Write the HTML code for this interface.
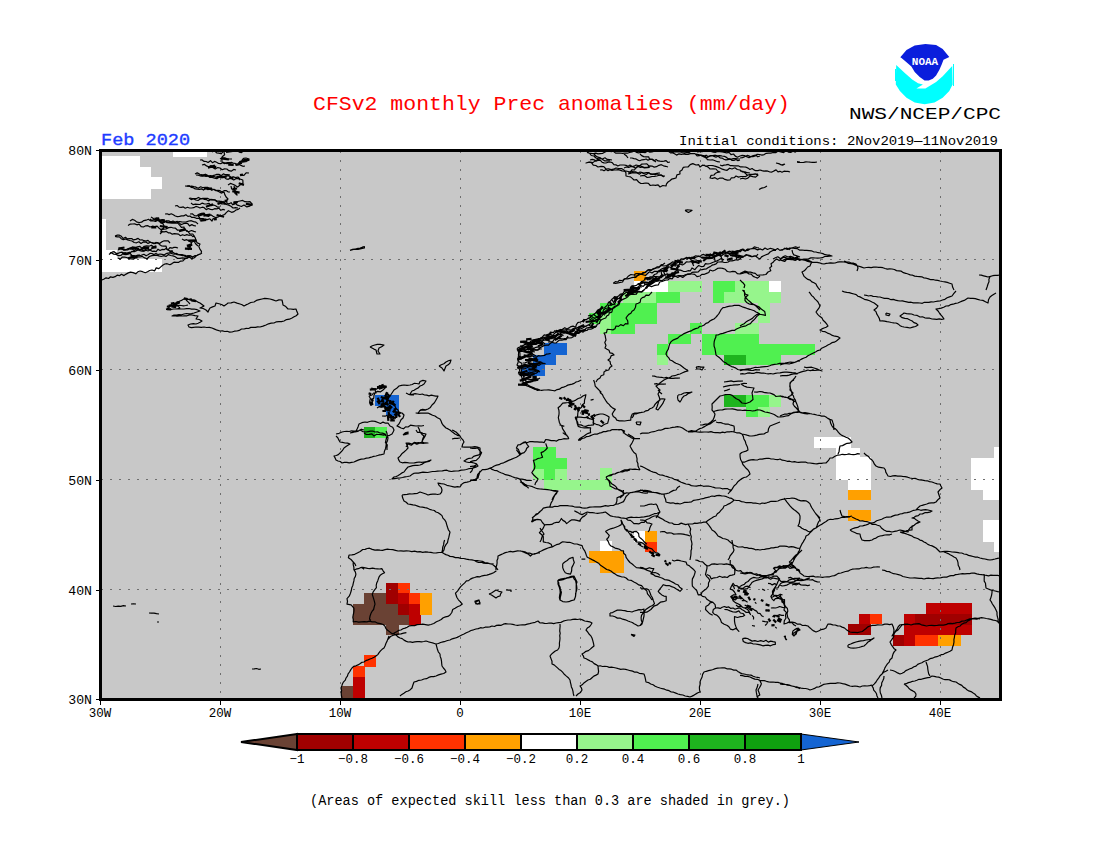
<!DOCTYPE html>
<html><head><meta charset="utf-8">
<style>
html,body{margin:0;padding:0;background:#fff;width:1100px;height:850px;overflow:hidden}
svg{position:absolute;left:0;top:0}
text{font-family:"Liberation Mono",monospace}
#coast path{vector-effect:non-scaling-stroke}
</style></head><body>
<svg width="1100" height="850" viewBox="0 0 1100 850">
<defs><clipPath id="mc"><rect x="101" y="151" width="899" height="548"/></clipPath></defs>
<!-- map background -->
<rect x="100" y="150" width="900" height="549" fill="#c8c8c8"/>
<g id="patches" clip-path="url(#mc)" shape-rendering="crispEdges">
<rect x="102" y="156" width="38" height="43" fill="#ffffff"/><rect x="140" y="167" width="11" height="32" fill="#ffffff"/><rect x="151" y="177" width="11" height="12" fill="#ffffff"/><rect x="173" y="150" width="34" height="7" fill="#ffffff"/><rect x="102" y="219" width="4" height="31" fill="#ffffff"/><rect x="102" y="250" width="15" height="9" fill="#ffffff"/><rect x="102" y="259" width="60" height="13" fill="#ffffff"/><rect x="634" y="271" width="12" height="10" fill="#ffa000"/><rect x="634" y="281" width="34" height="11" fill="#ffffff"/><rect x="668" y="281" width="34" height="11" fill="#96f58c"/><rect x="713" y="281" width="22" height="11" fill="#50f050"/><rect x="713" y="292" width="11" height="11" fill="#50f050"/><rect x="735" y="281" width="34" height="11" fill="#96f58c"/><rect x="724" y="292" width="57" height="11" fill="#96f58c"/><rect x="758" y="303" width="12" height="20" fill="#96f58c"/><rect x="769" y="281" width="12" height="11" fill="#ffffff"/><rect x="623" y="292" width="33" height="11" fill="#96f58c"/><rect x="656" y="292" width="24" height="11" fill="#50f050"/><rect x="600" y="303" width="57" height="21" fill="#50f050"/><rect x="589" y="313" width="11" height="11" fill="#50f050"/><rect x="611" y="324" width="24" height="10" fill="#50f050"/><rect x="600" y="313" width="11" height="21" fill="#96f58c"/><rect x="690" y="323" width="12" height="11" fill="#50f050"/><rect x="735" y="323" width="24" height="11" fill="#96f58c"/><rect x="668" y="334" width="23" height="10" fill="#50f050"/><rect x="702" y="334" width="57" height="10" fill="#50f050"/><rect x="657" y="344" width="11" height="11" fill="#50f050"/><rect x="702" y="344" width="113" height="11" fill="#50f050"/><rect x="657" y="355" width="11" height="10" fill="#96f58c"/><rect x="724" y="355" width="22" height="10" fill="#1eb41e"/><rect x="746" y="355" width="35" height="10" fill="#50f050"/><rect x="724" y="395" width="22" height="12" fill="#1eb41e"/><rect x="746" y="395" width="23" height="12" fill="#50f050"/><rect x="746" y="407" width="12" height="10" fill="#50f050"/><rect x="769" y="395" width="12" height="12" fill="#96f58c"/><rect x="758" y="407" width="12" height="10" fill="#96f58c"/><rect x="544" y="343" width="23" height="12" fill="#1464d2"/><rect x="533" y="355" width="23" height="10" fill="#1464d2"/><rect x="521" y="365" width="24" height="11" fill="#1464d2"/><rect x="375" y="395" width="24" height="11" fill="#1464d2"/><rect x="386" y="406" width="13" height="10" fill="#1464d2"/><rect x="364" y="427" width="11" height="11" fill="#1eb41e"/><rect x="375" y="427" width="12" height="11" fill="#50f050"/><rect x="533" y="447" width="23" height="11" fill="#50f050"/><rect x="533" y="458" width="34" height="11" fill="#50f050"/><rect x="533" y="469" width="11" height="11" fill="#96f58c"/><rect x="544" y="469" width="11" height="11" fill="#50f050"/><rect x="555" y="469" width="12" height="11" fill="#96f58c"/><rect x="600" y="468" width="12" height="12" fill="#96f58c"/><rect x="544" y="480" width="68" height="10" fill="#96f58c"/><rect x="814" y="437" width="37" height="11" fill="#ffffff"/><rect x="836" y="448" width="24" height="9" fill="#ffffff"/><rect x="836" y="457" width="35" height="23" fill="#ffffff"/><rect x="848" y="480" width="23" height="10" fill="#ffffff"/><rect x="848" y="490" width="23" height="10" fill="#ffa000"/><rect x="848" y="510" width="23" height="11" fill="#ffa000"/><rect x="994" y="447" width="6" height="11" fill="#ffffff"/><rect x="971" y="458" width="29" height="32" fill="#ffffff"/><rect x="983" y="490" width="17" height="10" fill="#ffffff"/><rect x="983" y="520" width="17" height="22" fill="#ffffff"/><rect x="994" y="542" width="6" height="10" fill="#ffffff"/><rect x="600" y="541" width="12" height="11" fill="#ffffff"/><rect x="589" y="551" width="35" height="12" fill="#ffa000"/><rect x="600" y="563" width="24" height="10" fill="#ffa000"/><rect x="634" y="531" width="11" height="11" fill="#ffffff"/><rect x="645" y="531" width="12" height="11" fill="#ffa000"/><rect x="645" y="542" width="12" height="10" fill="#ff3200"/><rect x="386" y="583" width="12" height="21" fill="#a00000"/><rect x="398" y="583" width="12" height="10" fill="#ff3200"/><rect x="364" y="593" width="22" height="11" fill="#6a4234"/><rect x="398" y="593" width="11" height="11" fill="#be0000"/><rect x="409" y="593" width="11" height="11" fill="#ff3200"/><rect x="420" y="593" width="12" height="22" fill="#ffa000"/><rect x="353" y="604" width="45" height="11" fill="#6a4234"/><rect x="398" y="604" width="11" height="11" fill="#a00000"/><rect x="409" y="604" width="11" height="11" fill="#be0000"/><rect x="353" y="615" width="56" height="10" fill="#6a4234"/><rect x="409" y="615" width="12" height="10" fill="#be0000"/><rect x="386" y="625" width="13" height="10" fill="#6a4234"/><rect x="364" y="655" width="12" height="12" fill="#ff3200"/><rect x="353" y="666" width="12" height="11" fill="#ff3200"/><rect x="353" y="677" width="12" height="22" fill="#be0000"/><rect x="341" y="686" width="12" height="13" fill="#6a4234"/><rect x="859" y="614" width="11" height="10" fill="#be0000"/><rect x="870" y="614" width="12" height="10" fill="#ff3200"/><rect x="848" y="624" width="23" height="11" fill="#a00000"/><rect x="926" y="603" width="46" height="11" fill="#be0000"/><rect x="904" y="614" width="11" height="32" fill="#be0000"/><rect x="915" y="614" width="57" height="11" fill="#a00000"/><rect x="904" y="625" width="68" height="10" fill="#be0000"/><rect x="893" y="635" width="11" height="11" fill="#a00000"/><rect x="915" y="635" width="23" height="11" fill="#ff3200"/><rect x="938" y="635" width="23" height="11" fill="#ffa000"/>
</g>
<!-- grid -->
<g stroke="#6e6e6e" stroke-width="1" stroke-dasharray="2 7" fill="none">
<path d="M101 259.5H1000M101 369.5H1000M101 479.5H1000M101 589.5H1000"/>
<path d="M220.5 151V699M340.5 151V699M460.5 151V699M580.5 151V699M700.5 151V699M820.5 151V699M940.5 151V699"/>
</g>
<g id="coast" clip-path="url(#mc)" stroke="#000" stroke-width="1.2" fill="none" stroke-linejoin="round" vector-effect="non-scaling-stroke">
<path d="M102.0 280.0 104.1 279.0 106.1 277.8 108.6 278.5 110.5 276.8 112.9 277.3 115.1 276.7 117.1 275.2 119.5 275.7 121.4 274.3 124.0 275.6 126.1 274.1 128.3 272.9 130.6 272.1 133.1 272.6 135.8 273.8 137.8 271.8 140.1 271.0 142.6 271.7 145.3 272.7 147.5 271.8 149.7 270.5 152.0 270.0 154.7 270.8 156.2 267.9 158.9 268.6 160.8 266.9 162.7 265.2 164.8 264.0 167.1 263.7 169.9 264.7 172.0 263.6 174.0 262.2 176.4 262.4 178.7 262.3 180.7 261.1 183.0 260.8 184.9 258.9 186.9 257.7 189.1 257.3 191.7 258.3 194.0 258.0 195.8 256.5 197.6 254.9 200.0 254.2 202.0 253.0M115.0 236.4 117.2 236.8 119.4 236.9 121.2 238.7 123.3 239.6 125.7 238.9 127.7 239.9 129.8 240.5 132.0 241.0 134.2 242.5 136.5 242.8 138.9 241.7 141.0 243.5 143.6 241.8 145.9 242.1 148.0 243.4 150.5 242.2 152.7 242.9 155.0 243.6 157.6 242.5 159.4 244.4 161.4 245.8 163.7 246.1 166.0 246.0 166.9 249.4 170.0 251.0 172.5 252.1 174.8 253.6 177.3 254.6 180.0 255.0 182.5 255.7 185.0 255.4 187.4 256.6 190.0 255.6 192.8 257.1 195.1 255.6 197.6 255.3 200.0 254.0M109.0 254.4 111.2 252.8 113.7 254.1 116.0 254.4 118.5 255.6 120.8 255.5 123.0 253.6 125.3 253.0 127.7 253.6 130.0 253.0 132.0 251.3 134.3 251.6 136.5 250.6 138.6 249.8 140.8 249.1 143.3 250.9 145.4 249.4 147.6 249.0 150.0 250.0 152.7 248.1 156.0 248.0 155.0 246.0M118.0 258.0 120.3 259.1 122.4 257.0 124.6 257.2 126.8 257.5 129.1 258.7 131.3 259.0 133.5 259.2 135.6 257.3 137.8 256.9 140.0 257.0 142.4 256.4 144.7 257.9 147.1 258.7 149.4 256.5 151.8 255.6 154.2 255.3 156.5 255.1 158.9 255.9 161.3 256.5 163.6 255.7 166.0 256.4 168.4 254.6 170.7 255.5 173.1 255.9 175.3 256.7 177.6 258.4 179.9 258.4 182.3 257.9 184.6 258.1 187.0 258.5 189.4 256.7 191.6 258.7 194.0 258.0M119.0 248.0 121.3 248.9 123.6 249.7 125.9 249.8 128.2 248.6 130.5 248.1 132.8 246.9 135.1 248.1 137.4 246.8 139.7 246.3 142.0 248.4 144.2 246.3 146.6 245.9 149.0 246.2 151.4 245.2 154.0 247.0M128.0 225.6 130.3 224.1 132.5 224.0 134.7 223.9 136.9 224.8 139.1 224.2 141.2 226.7 143.4 227.0 145.7 225.8 147.9 225.7 150.0 227.0 152.4 226.2 154.7 226.6 157.1 226.1 159.2 228.3 161.4 229.9 163.8 229.1 166.1 228.9 168.6 227.6 171.0 227.3 173.2 228.0 175.5 228.2 177.6 230.2 180.0 230.0 182.4 229.4 184.8 228.7 186.8 231.4 189.1 231.5 191.5 230.5 193.8 231.4 196.0 232.0M130.0 221.0 132.3 219.4 134.6 220.3 136.9 222.1 139.3 222.5 141.6 222.2 143.8 220.6 146.1 220.2 148.4 219.3 150.8 220.9 153.1 220.8 155.4 221.5 157.7 220.4 160.0 220.4 162.5 219.6 164.8 221.3 167.1 222.7 169.5 223.0 171.9 223.1 174.3 223.2 176.7 223.1 179.2 221.5 181.6 221.8 184.0 222.0 186.4 221.9 188.9 221.0 191.3 220.7 193.6 221.6 195.9 222.1 198.0 224.0M151.0 217.0 153.0 218.2 154.8 219.8 157.3 219.3 159.1 220.9 161.1 222.1 163.2 222.8 166.0 221.0 168.0 222.4 170.7 221.9 173.1 222.2 175.5 222.6 177.8 223.2 179.6 225.2 181.4 227.3 184.0 227.0 184.6 229.7 186.9 230.5 188.5 232.1 189.8 234.0 192.8 234.0 194.0 236.0 195.4 238.1 195.9 240.8 197.3 242.9 200.0 244.0 198.8 246.6 199.9 249.1 201.5 251.4 201.0 254.0M182.0 239.0 184.2 240.3 186.8 239.7 189.1 241.1 191.3 242.5 194.0 241.0 195.6 243.8 198.0 246.0M190.0 214.0 192.3 213.8 194.5 215.6 196.8 215.8 199.3 214.1 201.6 213.4 204.0 213.2 206.1 215.6 208.4 216.4 210.8 214.8 213.0 216.3 215.3 217.6 217.6 217.2 220.0 216.0 222.3 215.3 224.6 214.5 226.5 212.4 228.4 210.7 231.6 212.3 234.0 211.6 236.0 210.0 238.2 209.4 240.0 208.0M189.0 198.0 191.2 199.6 193.6 198.8 195.8 200.0 198.1 200.5 200.5 198.8 202.9 198.3 205.2 198.3 207.5 198.3 209.7 199.5 212.0 200.0 214.7 199.9 217.0 201.0 219.7 201.0 221.4 203.8 224.0 204.0 226.4 204.5 228.7 205.1 231.0 206.2 233.0 208.0 235.6 207.7 238.0 208.0M191.0 203.0 193.0 204.6 195.4 204.2 197.6 204.3 199.9 204.5 202.3 203.1 204.5 204.0 206.8 203.8 209.1 203.3 211.1 205.7 213.5 205.0 215.6 205.8 217.7 207.2 220.0 207.0M187.0 186.0 189.3 186.5 191.6 186.1 193.8 186.7 196.1 187.2 198.2 188.3 200.7 186.8 202.9 187.7 205.3 187.3 207.6 187.3 209.7 189.1 212.0 189.0 214.4 189.8 216.7 190.5 219.0 191.7 221.2 193.1 224.0 192.0 224.8 194.6 226.1 197.0 228.0 199.0 225.8 200.8 224.0 203.0M196.0 175.0 198.3 175.2 200.6 176.0 203.0 175.6 205.3 175.8 207.7 175.8 209.9 177.4 212.2 177.4 214.5 178.1 216.8 178.7 219.3 176.9 221.6 177.1 224.0 177.0 226.1 178.8 228.3 179.3 230.9 177.5 233.3 176.8 235.5 177.6 237.9 177.0 240.0 179.0 242.8 180.0 243.0 183.0 240.0 185.0 237.6 187.1 235.2 185.4 232.8 184.3 230.4 183.4 228.0 185.0M202.0 165.0 204.4 164.3 206.5 165.9 208.7 166.7 211.1 165.6 213.1 167.7 215.2 169.1 217.8 167.6 220.0 168.0 222.1 169.7 224.5 168.9 226.8 169.0 228.9 170.7 231.2 171.2 233.7 169.4 236.0 170.0M208.0 176.0 210.2 175.7 212.4 175.8 214.6 175.2 216.7 174.4 218.9 174.4 221.2 175.6 223.3 173.9 225.6 174.7 227.8 174.7 230.0 175.0M220.0 159.0 222.4 157.5 224.8 157.8 227.2 158.8 229.6 159.0 232.0 159.0M212.0 152.0 214.2 150.5 216.6 152.8 218.8 153.1 221.1 153.8 223.3 151.4 225.6 150.7 227.8 149.7 230.1 151.5 232.4 150.7 234.6 149.8 236.9 150.3 239.2 152.1 241.5 152.6 243.7 150.9 246.0 151.0M224.0 152.0 224.6 154.7 222.2 156.8 221.9 159.4 222.0 162.0 224.2 163.6 227.3 162.6 230.0 162.5 232.0 165.0M236.0 165.0 238.3 164.5 240.0 163.0 241.4 160.8 244.0 161.0 246.8 160.7 249.0 159.0 246.0 158.0 243.6 158.3 242.0 160.0M241.0 175.0 243.9 175.3 246.1 172.8 249.0 173.0M231.0 186.0 231.6 188.9 234.7 190.0 234.9 193.2 237.0 195.0 236.4 192.7 235.1 190.6 234.7 188.3 234.0 186.0M233.0 203.0 235.7 203.6 237.6 201.5 240.0 201.0 242.7 200.4 244.9 201.7 247.5 201.8 250.0 201.7 252.0 204.0 249.6 206.2 246.9 206.9 244.0 205.0 241.4 206.5 239.3 205.7 237.2 205.1 235.2 203.2 233.0 203.0M198.0 216.0 199.6 217.7 200.0 220.0 202.4 219.9 204.9 219.2 207.3 219.6 209.8 218.8 212.0 221.0 213.2 218.5 216.0 219.0M156.0 218.0 158.7 218.5 159.2 221.2 160.7 222.9 163.0 223.8 164.0 226.0 163.4 228.2 161.0 229.5 161.7 232.3 160.0 234.0M188.0 250.0 190.0 247.3 190.0 244.0M350.0 250.4 352.6 249.7 355.3 249.0 358.0 248.4 360.2 248.1 362.3 247.2 364.4 246.6 364.4 248.0 361.2 248.7 358.0 249.4 355.3 249.5 352.6 249.4 350.0 250.4M587.0 152.4 589.5 153.2 591.3 155.5 594.0 156.0 595.6 157.8 597.6 158.7 600.0 159.0 597.5 159.7 595.1 160.9 592.9 162.6 590.0 162.0 586.0 163.0 588.9 162.2 591.4 162.7 593.3 165.2 595.8 165.5 598.0 167.0 601.0 166.4 603.8 166.6 606.0 169.0 608.5 168.9 611.1 169.6 613.6 169.2 616.0 168.0 618.7 168.5 621.5 168.6 624.0 170.0 625.9 172.7 626.0 176.0 628.2 176.5 630.5 176.9 632.3 178.4 634.0 180.0 636.6 179.7 638.6 182.0 640.8 183.5 643.4 183.3 646.0 183.0 648.4 183.4 650.3 185.5 653.0 185.0 655.4 185.3 658.1 184.8 660.0 187.0 662.8 185.5 666.0 186.0 666.5 183.8 668.0 182.0 669.9 180.8 671.6 179.2 673.8 178.6 676.0 178.0 676.9 174.9 680.0 174.0 679.8 171.4 682.0 170.0 683.2 167.4 685.5 167.0 688.0 167.0 690.2 164.6 692.8 163.6 696.0 165.0 698.7 164.7 700.0 167.0 702.8 165.1 706.0 166.0 708.2 167.2 710.0 169.0 713.0 168.9 716.0 169.0 717.6 171.0 720.0 172.0 717.7 172.3 715.6 173.2 714.0 175.0 711.1 175.3 710.0 178.0 712.5 178.4 715.0 177.7 717.5 179.2 720.0 178.0 722.6 178.1 724.9 179.4 727.4 180.1 730.0 180.0 731.4 177.8 734.3 177.7 736.0 176.0 738.5 177.1 740.9 176.5 743.3 176.5 745.7 176.6 748.0 175.0 750.5 174.4 753.0 174.4 755.5 174.2 758.0 174.0M587.0 152.0 589.2 153.0 591.4 153.4 593.6 153.7 595.8 153.2 598.0 153.8 600.2 153.6 602.4 153.5 604.6 152.3 606.8 151.2 609.1 151.0 611.2 151.6 613.4 151.2 615.6 153.1 617.8 153.2 620.0 153.0 622.4 153.3 624.8 153.2 627.3 153.2 629.6 152.5 632.0 152.0 634.2 150.7 636.4 152.3 638.7 152.8 640.9 152.4 643.1 152.3 645.3 152.6 647.6 151.0 649.8 152.2 652.0 152.0 654.4 151.2 656.7 150.1 659.1 150.1 661.6 151.3 664.0 151.0 666.3 150.3 668.6 151.6 670.8 152.9 673.1 152.2 675.4 151.7 677.7 151.8 680.0 152.0 682.2 152.5 684.5 152.9 686.7 152.7 688.9 152.7 691.1 151.0 693.3 150.5 695.5 150.5 697.8 151.9 700.0 151.3 702.2 151.7 704.4 150.4 706.6 149.9 708.9 150.2 711.1 151.5 713.3 152.1 715.6 152.3 717.8 151.4 720.0 151.6 722.2 152.0 724.5 152.4 726.7 152.9 729.1 152.4 731.0 154.6 733.5 154.0 735.3 156.1 737.4 157.2 740.0 156.0 742.2 155.4 744.4 155.6 746.7 156.7 748.9 157.6 751.1 156.6 753.3 155.6 755.6 155.0 757.8 156.8 760.0 156.0M624.0 168.0 626.3 167.0 628.7 167.5 630.9 166.4 633.3 166.9 635.7 168.2 638.0 166.5 640.4 167.5 642.7 167.0 645.1 167.7 647.4 167.5 649.6 165.9 652.0 166.0 654.2 167.1 656.5 166.7 658.9 165.3 661.3 164.7 663.5 165.8 665.7 166.3 668.0 167.0M628.0 174.0 630.3 173.4 632.5 172.6 634.8 172.8 637.1 172.7 639.4 174.2 641.7 172.4 644.0 173.7 646.3 174.5 648.6 172.8 650.9 174.2 653.2 174.2 655.5 174.7 657.7 173.2 660.0 173.0M640.0 176.0 642.4 175.7 644.8 175.7 647.2 177.5 649.6 177.2 652.0 176.5 654.4 176.4 656.8 176.0 659.3 175.2 661.7 175.1 664.0 177.0M628.0 172.0 630.4 171.8 631.9 169.8 634.5 170.0 635.9 167.8 637.7 166.3 639.9 165.7 641.6 164.1 644.0 164.0 646.9 163.9 649.1 166.2 652.0 166.0M594.0 154.0 595.9 156.0 598.0 157.2 600.5 157.9 602.5 159.5 604.6 160.8 607.3 160.9 610.0 161.0M600.0 158.0 602.3 159.0 605.0 157.8 607.2 159.4 609.6 159.6 612.0 160.0M640.0 154.0 641.7 155.6 643.7 156.6 646.1 156.8 648.6 156.8 649.7 159.5 652.4 159.3 654.2 160.6 656.0 162.0M624.0 154.0 626.3 155.7 628.0 158.0M670.0 153.0 672.3 152.6 674.5 153.8 676.6 155.1 679.0 153.8 681.3 154.4 683.6 153.8 685.8 154.4 688.1 154.3 690.4 153.7 692.7 153.5 695.0 153.7 697.1 155.8 699.3 155.7 701.7 155.0 703.8 156.7 706.0 157.9 708.3 156.9 710.7 155.8 713.0 155.5 715.3 155.2 717.5 155.9 719.8 155.6 722.1 156.0 724.3 156.3 726.5 157.4 728.6 158.9 730.9 159.3 733.2 158.7 735.5 158.5 737.7 158.8 740.0 159.0M696.0 154.0 698.5 154.7 700.9 155.4 703.6 155.6 705.8 156.8 707.4 159.7 710.0 160.0 712.6 159.8 715.1 160.7 717.5 161.7 720.0 162.0M704.0 165.0 706.1 166.4 708.6 165.5 711.0 165.5 713.3 165.7 715.6 166.4 717.8 167.1 720.0 168.0 722.3 169.2 724.7 169.8 727.1 170.3 729.6 168.2 732.0 169.0 734.9 167.8 737.3 169.5 740.0 170.0 742.2 171.8 744.9 171.9 747.4 172.7 750.0 173.0M685.0 210.4 687.3 209.9 689.7 210.0 692.0 210.4 688.4 212.4 685.0 210.4M613.0 283.0 615.7 283.5 618.0 283.0 620.2 282.4 622.6 282.0 624.0 279.0 626.6 278.2 628.6 275.9 630.9 274.5 634.0 275.0 636.1 273.5 638.8 273.6 641.5 274.0 643.8 273.0 646.0 271.9 648.0 270.0 651.0 270.6 653.4 269.1 656.0 268.0 658.8 267.7 661.0 265.4 664.0 266.0 666.7 265.6 669.2 264.0 672.0 264.0 674.8 263.9 677.2 262.9 679.1 260.8 681.1 258.8 684.0 259.0 686.4 257.4 689.0 258.3 691.6 258.8 694.0 258.0 696.4 257.0 698.8 256.2 701.2 257.3 703.6 257.9 706.0 258.0 708.6 257.0 711.1 255.6 714.0 256.0 716.5 255.3 718.7 253.4 721.2 253.2 724.0 254.0 726.2 252.7 729.1 253.9 731.4 253.1 734.0 253.2 736.0 251.0 738.4 251.3 740.6 249.8 742.9 249.0 745.5 250.7 747.8 250.4 750.0 249.0 752.2 248.6 754.3 246.9 756.7 247.5 759.0 248.0M634.0 276.0 636.3 276.2 638.5 275.2 640.6 274.1 643.0 274.7 645.5 275.5 647.5 273.5 649.5 271.8 652.0 273.0 654.1 271.4 656.4 271.3 658.9 271.9 661.0 270.4 663.5 271.4 665.9 271.4 668.0 270.0M636.0 288.0 638.3 287.2 640.2 285.4 643.2 286.4 645.1 284.5 647.8 284.6 649.6 282.5 652.0 282.0 654.0 280.4 656.7 281.2 658.7 279.8 661.4 280.9 663.6 279.7 665.5 277.8 668.0 278.0M652.0 278.0 654.0 276.7 656.3 276.5 658.7 276.9 661.2 277.7 663.0 275.3 665.2 274.8 667.3 273.8 670.0 275.4 672.0 274.0 674.0 272.7 675.9 271.0 678.0 269.9 680.5 270.1 683.3 271.3 685.8 271.5 688.0 270.7 690.4 270.8 692.0 268.0 694.9 269.7 696.7 267.4 698.7 265.5 701.4 266.7 703.7 266.4 705.5 263.7 708.0 264.0 710.3 263.5 712.5 262.5 714.7 261.7 717.0 260.9 719.1 259.8 721.2 258.4 724.0 260.0M660.0 270.0 662.0 268.7 664.2 267.9 667.0 269.1 668.7 266.7 671.4 267.8 673.2 265.6 675.4 264.7 678.0 265.4 680.0 264.0 682.4 265.0 684.5 263.7 686.5 261.8 688.8 262.0 691.0 261.6 693.5 263.0 695.5 261.2 697.7 260.7 700.0 261.0M710.0 254.0 712.2 255.4 714.7 253.4 717.0 253.8 719.2 255.3 721.5 255.9 723.9 254.0 726.3 253.2 728.6 253.0 730.7 255.7 733.1 254.9 735.4 256.2 737.6 257.3 740.0 256.0M724.0 252.0 726.5 252.4 728.9 252.8 730.5 255.5 732.8 256.2 735.6 255.9 737.5 257.6 740.0 258.0 742.2 257.2 744.3 256.1 746.3 254.6 749.0 255.9 751.5 256.8 753.7 256.0 756.2 256.3 758.0 254.0M668.0 278.0 670.1 276.1 672.5 275.7 675.1 276.0 677.8 277.5 680.0 276.0 682.7 277.5 684.9 275.7 687.1 274.2 689.5 273.9 692.0 274.0 694.7 274.4 697.0 276.6 700.0 276.0 701.8 274.4 704.4 274.3 706.6 273.4 708.8 272.5 710.0 270.0 712.8 271.0 715.2 270.0 717.5 268.4 720.0 268.0 722.7 268.4 725.3 269.3 727.3 271.5 730.0 272.0 732.7 271.4 735.3 271.6 737.5 273.7 740.0 274.0 742.3 273.5 744.6 272.7 746.9 272.4 749.0 274.0 751.2 274.2 753.2 276.4 755.4 277.3 757.5 278.1 760.0 276.0M740.0 280.0 741.7 281.7 743.5 283.3 744.8 285.1 744.0 288.0M797.0 162.4 799.2 162.4 801.4 162.5 803.7 162.3 805.9 161.9 808.1 162.0 810.3 162.2 812.6 162.3 814.8 162.4 817.0 162.0M780.0 164.4 782.6 165.2 785.0 164.0M780.0 250.0 782.5 250.1 784.6 248.2 787.3 249.4 789.5 248.0 792.0 248.0 794.5 248.5 797.1 248.6 799.4 250.1 802.0 250.0 804.3 250.3 806.7 250.4 809.1 250.6 811.4 250.8 813.6 251.8 816.0 252.0 818.2 252.7 820.6 253.0 822.9 253.6 825.0 254.7 827.4 255.1 829.8 255.2 832.0 256.0 829.6 256.2 827.2 256.5 824.7 256.5 822.4 257.7 820.0 258.0 817.7 258.2 815.4 258.0 813.1 257.9 810.8 257.9 808.6 258.9 806.3 259.2 804.0 259.0 801.6 259.7 799.3 260.4 796.8 258.3 794.4 258.7 791.9 257.8 789.6 259.2 787.1 258.4 784.8 259.4 782.4 260.5 780.0 260.0M780.0 260.0 782.3 260.7 784.7 261.5 786.8 259.1 789.1 259.5 791.5 259.7 793.7 258.4 796.0 259.0 798.5 258.8 800.8 259.3 803.1 259.9 805.5 260.4 807.7 261.4 810.0 262.0 812.3 262.4 814.7 262.4 817.1 262.3 819.4 262.8 821.7 263.6 824.0 264.0 826.2 263.4 828.4 263.2 830.6 262.8 832.9 263.2 835.1 263.0 837.3 262.2 839.5 261.8 841.7 261.8 844.0 262.0 846.4 262.5 848.6 263.4 851.1 263.6 853.5 264.1 855.7 265.3 858.0 266.0 861.0 266.9 864.0 268.0 866.4 267.5 868.8 267.3 871.2 267.7 873.6 267.1 876.0 267.0 878.3 267.3 880.6 267.4 882.9 267.7 885.1 268.5 887.3 269.1 889.7 268.9 892.0 269.0 894.4 269.5 896.5 270.6 898.9 270.9 901.3 271.2 903.4 272.7 905.7 273.3 908.0 274.0 910.2 274.9 912.6 275.2 914.7 276.1 917.1 276.4 919.5 276.6 921.9 276.8 924.0 278.0 926.3 278.2 928.6 278.9 930.8 279.7 933.2 279.5 935.4 280.2 937.7 280.4 940.0 281.0 942.4 281.5 944.9 281.8 947.3 282.4 949.6 283.2 952.0 284.0 952.6 287.1 954.0 290.0M804.0 259.0 806.8 259.6 809.4 260.8 812.0 262.0 810.8 263.9 810.0 266.0 807.6 267.0 806.0 269.0 804.3 270.8 802.0 272.0 803.1 274.2 804.1 276.4 806.0 278.0 807.9 279.4 810.2 280.1 811.8 281.9 814.0 282.8 816.0 284.0 817.0 286.2 818.4 288.2 820.0 290.0M844.0 261.0 846.3 261.9 848.9 262.0 851.1 263.0 853.7 263.2 856.0 264.0 857.2 265.9 858.0 268.0 857.0 271.0M792.0 250.0 792.6 252.7 793.8 254.9 796.8 255.8 798.0 258.0 799.0 260.0M979.0 275.0 981.3 275.2 983.6 275.8 985.8 276.4 988.0 277.0 990.4 276.4 992.7 275.7 995.1 275.3 997.6 275.4 1000.0 275.0M990.0 277.0 988.9 279.2 989.0 281.8 988.0 284.0 987.1 287.0 986.0 290.0M166.0 309.4 168.2 308.4 169.8 306.5 172.1 305.7 173.8 304.0 176.0 303.0 178.0 302.0 180.0 301.0 182.1 300.1 184.0 299.0 186.5 299.1 189.0 299.3 191.5 299.8 194.0 300.0 196.0 300.9 197.9 302.1 200.0 303.0 202.0 304.5 204.0 306.0 202.0 307.1 200.0 308.0 203.2 308.5 206.0 310.0 208.0 312.0 208.9 309.9 210.0 308.0 212.5 306.9 215.0 306.0 216.0 303.0 220.0 304.0 222.1 304.7 224.0 306.0 226.1 304.6 228.0 303.0 231.1 302.9 234.0 302.0 237.0 303.1 240.0 304.0 242.1 304.7 244.0 306.0 245.9 304.9 248.0 304.0 250.8 302.5 254.0 302.0 256.4 300.4 259.2 299.7 262.0 299.0 264.7 298.4 267.3 298.7 270.0 299.0 273.0 299.9 276.0 301.0 278.9 299.9 282.0 300.0 282.6 302.5 283.0 305.0 285.8 306.6 288.0 309.0 290.7 309.0 293.3 309.3 296.0 309.0 296.9 311.6 298.0 314.0 296.2 315.7 294.1 316.8 292.0 318.0 289.4 319.2 286.5 319.6 284.0 321.0 281.5 321.7 278.9 321.7 276.4 321.8 274.0 323.0 271.2 323.1 268.5 323.8 266.0 325.0 263.0 326.1 260.0 327.0 257.7 326.8 255.4 327.4 253.1 327.3 250.8 327.4 248.6 328.5 246.2 328.4 244.0 329.0 241.5 329.0 239.2 330.4 236.9 331.0 234.4 331.2 232.0 332.0 229.6 332.1 227.2 331.3 224.8 331.5 222.4 330.9 220.0 331.0 217.2 330.2 214.6 329.1 212.0 328.0 209.4 327.3 206.6 327.5 204.0 327.0 201.3 327.3 198.7 327.1 196.0 327.0 193.7 327.3 191.3 327.6 189.0 327.0 188.0 325.0 190.6 324.0 193.3 323.7 196.0 324.0 198.1 323.2 200.1 322.3 202.0 321.0 199.2 319.5 196.0 319.0 198.0 316.0 195.0 315.6 192.0 315.0 189.5 315.0 187.0 315.8 184.5 315.9 182.0 316.0 179.5 315.9 177.0 316.1 174.5 315.6 172.0 316.0 174.0 315.0 176.5 315.0 179.0 314.7 181.6 314.8 184.0 314.0 186.5 313.5 189.0 313.9 191.5 313.6 194.0 313.0 197.0 312.0 200.0 311.0 197.1 309.7 194.0 309.0 191.5 309.1 189.0 308.5 186.5 308.7 184.0 309.0 181.3 309.0 178.7 308.7 176.0 309.0 173.5 309.0 171.0 309.5 168.5 309.2 166.0 309.4M172.0 306.0 174.3 305.4 176.6 305.8 178.8 305.4 181.1 305.5 183.5 305.8 185.7 305.5 188.0 305.0M176.0 304.0 177.9 306.1 180.0 308.0M186.0 300.0 188.1 301.9 190.0 304.0M370.0 347.0 372.4 345.8 374.8 345.0 377.3 344.3 380.0 344.4 384.0 345.0 381.6 346.7 379.0 348.0 378.0 351.0 380.0 354.0 377.0 354.0 376.0 350.0 373.9 349.1 372.0 348.0 370.0 347.0M439.0 366.0 441.3 364.7 443.9 363.7 446.0 362.0 448.4 360.8 451.0 360.0 450.0 363.0 448.2 364.8 446.0 366.0 445.0 368.5 444.0 371.0 442.0 368.0 439.0 366.0M540.0 341.0 538.0 343.1 535.8 344.4 533.2 344.2 530.9 345.3 528.0 344.0 526.7 346.3 524.8 347.7 522.2 347.9 519.9 348.7 518.0 350.0 519.9 352.7 520.0 356.0 519.0 358.0 518.0 360.0 519.4 362.0 521.7 363.3 522.0 366.0 520.8 368.6 521.8 371.4 521.0 374.0 523.6 375.2 524.0 378.0 525.8 380.7 526.0 384.0 528.1 385.1 529.8 386.9 532.0 388.0 534.6 389.1 537.3 389.4 540.0 390.0M518.0 350.0 520.1 349.0 522.2 347.7 524.6 349.0 526.8 349.2 529.0 348.5 531.2 349.1 533.4 348.5 535.7 349.8 537.9 349.6 540.0 348.0M518.0 358.0 520.2 357.0 522.6 358.4 524.6 356.2 527.0 356.6 529.2 356.3 531.4 355.5 533.5 354.4 536.0 356.0M520.0 366.0 522.3 366.6 524.4 364.3 526.7 364.9 529.1 366.2 531.2 364.2 533.4 363.3 535.7 364.0 538.0 364.0M522.0 374.0 524.3 373.8 526.6 374.0 528.9 374.5 530.9 372.5 533.2 371.9 535.4 371.5 537.5 370.4 540.0 372.0M526.0 382.0 528.5 381.7 530.8 381.2 533.3 380.9 535.0 378.2 537.8 379.2 540.0 378.0M540.0 340.0 542.6 339.9 544.9 338.6 547.5 338.4 549.7 337.0 552.0 336.0 553.7 334.3 555.3 332.6 557.3 331.6 559.0 330.0 561.3 329.6 564.0 330.0 566.4 329.7 568.9 329.9 571.4 330.2 573.8 329.7 576.0 328.0 578.4 327.2 580.8 326.9 583.2 326.0 585.8 326.4 588.0 325.0 590.2 324.1 591.7 322.0 594.1 321.4 596.0 320.0 598.7 318.9 598.5 315.9 600.0 314.0 602.7 313.4 603.4 310.2 605.3 308.5 608.0 308.0 608.6 305.4 611.3 304.9 613.9 304.3 615.4 302.6 616.0 300.0 618.1 298.6 620.8 298.0 622.0 295.5 624.0 294.0 626.4 292.2 629.7 292.9 632.0 291.0 634.5 291.6 636.9 291.6 639.3 291.4 641.8 292.2 644.0 290.0M540.0 338.0 542.2 337.5 544.6 338.1 546.9 337.7 549.2 337.8 551.2 336.3 553.5 336.3 555.7 335.5 557.7 334.1 560.0 334.0 562.0 332.4 564.4 332.8 566.3 331.0 569.1 332.4 570.9 330.4 572.9 328.8 575.0 328.1 577.9 330.0 580.0 329.0 582.2 328.3 584.3 326.9 586.5 325.7 588.7 324.9 591.3 326.4 593.8 326.6 596.0 326.0M548.0 342.0 550.4 341.9 552.7 341.7 554.4 339.1 556.9 339.2 559.0 338.2 561.6 338.8 564.0 338.7 566.3 338.5 568.0 336.0M588.0 316.0 590.6 315.0 592.7 317.3 594.9 318.8 597.2 319.7 600.0 318.0 601.8 316.2 603.3 314.0 604.9 311.9 606.6 309.8 610.0 310.0 612.1 308.5 614.6 307.6 616.6 305.9 618.9 304.7 620.0 302.0M594.0 318.0 596.4 317.5 598.4 315.8 600.3 314.0 602.5 312.7 605.4 313.7 607.4 311.9 610.0 312.0M580.0 332.0 582.1 330.7 584.4 330.1 586.3 328.2 588.7 327.6 591.0 327.1 593.7 327.8 596.0 327.0M652.0 292.0 650.5 293.7 648.9 295.3 646.0 295.1 644.6 296.9 642.3 297.6 640.7 299.2 640.2 302.2 638.2 303.3 636.0 304.0 635.5 307.2 634.0 310.0 632.0 311.2 630.9 313.3 628.8 314.4 627.3 316.1 626.0 318.0 627.7 320.8 628.0 324.0 625.5 323.6 623.4 325.7 620.7 324.6 618.5 326.4 616.0 326.0 615.0 328.8 612.9 329.9 610.0 329.5 607.2 329.3 606.5 332.6 604.0 333.0 605.1 335.2 605.5 337.6 606.0 340.0 604.8 342.6 606.0 345.4 605.0 348.0 607.0 349.2 609.0 350.3 609.9 352.8 612.5 353.3 614.0 355.0 611.2 355.7 610.1 358.4 608.0 360.0 610.1 361.5 610.5 364.1 612.0 366.0 609.9 367.4 608.7 370.0 606.1 370.6 604.0 372.0 603.8 374.8 601.1 375.8 600.0 378.0 597.5 379.5 596.0 382.0M632.0 418.0 633.3 416.1 634.0 414.0 636.6 413.8 639.0 413.0 641.5 412.4 644.0 412.0 645.9 410.8 648.2 410.3 649.9 408.7 652.0 408.0 653.8 406.6 654.9 404.5 656.4 402.8 658.1 401.3 660.0 400.0 659.2 396.9 658.0 394.0 659.1 392.0 660.0 390.0 657.9 388.1 656.0 386.0 658.2 384.8 659.9 382.9 661.9 381.4 664.0 380.0 666.0 379.0 668.1 378.2 670.2 377.4 672.0 376.0 674.7 375.7 677.3 374.7 680.0 374.0 682.6 372.8 685.2 371.6 688.0 371.0 686.1 369.4 684.0 368.0 682.1 366.5 680.2 365.0 678.0 364.0 675.9 363.2 673.9 362.1 672.1 360.8 670.0 360.0 668.8 357.9 667.1 356.2 666.0 354.0 666.8 351.5 668.3 349.2 668.9 346.6 669.6 344.1 671.0 341.8 673.0 340.1 675.4 339.1 677.8 338.1 679.7 336.2 682.0 335.0 684.1 333.6 686.4 332.6 688.7 331.6 691.1 330.9 693.3 329.6 695.6 328.6 698.0 328.0 699.7 326.4 702.1 326.0 704.2 325.0 705.9 323.3 708.2 322.7 709.9 321.0 711.9 319.9 714.0 319.0 715.8 317.4 717.4 315.5 718.9 313.6 720.1 311.5 721.3 309.3 723.0 307.6 725.3 307.3 727.5 306.6 729.8 306.2 732.1 306.0 734.3 305.4 736.7 305.3 739.0 305.4 741.1 306.3 743.2 307.2 745.5 307.8 747.6 308.7 749.8 309.3 752.0 310.0 754.2 310.7 756.0 312.0 758.1 312.9 760.0 314.0M760.0 314.0 758.2 315.4 756.4 316.8 755.1 318.7 753.5 320.3 751.8 321.8 750.4 323.6 748.1 324.5 745.9 325.8 743.5 326.4 741.1 327.0 738.8 328.0 736.5 329.0 734.4 330.4 732.0 330.4 729.7 331.1 727.4 331.8 725.2 332.6 722.9 333.4 720.6 333.8 718.4 334.8 716.0 335.0 715.8 337.3 714.8 339.5 714.2 341.7 714.0 344.0 714.1 346.3 714.9 348.4 715.3 350.6 715.7 352.8 716.0 355.0 717.9 356.6 719.9 358.1 721.7 359.8 723.4 361.7 725.7 362.8 727.6 364.4 729.6 365.4 731.6 366.6 733.8 367.2 735.9 368.1 737.7 369.5 740.0 370.0 742.2 369.7 744.4 369.9 746.7 369.6 748.9 370.1 751.1 370.5 753.3 370.3 755.6 369.7 757.8 369.9 760.0 370.0M744.0 290.0 744.5 292.7 744.6 295.5 746.0 298.0 747.8 299.9 749.8 301.5 751.7 303.2 753.8 304.6 756.0 306.0 758.0 308.0 760.0 310.0M678.0 395.0 681.2 394.5 684.0 393.0 686.7 392.6 689.4 392.5 692.0 392.0 690.0 393.0 687.9 393.8 686.1 395.3 684.0 396.0 682.3 397.8 681.3 400.0 680.0 402.0 678.0 400.0 677.5 397.5 678.0 395.0M660.0 399.0 662.5 398.8 665.0 399.0 663.8 401.3 662.7 403.7 661.1 405.8 659.6 407.9 658.0 410.0 656.0 409.0 657.1 406.5 657.9 404.0 658.7 401.4 660.0 399.0M696.0 367.0 698.7 366.7 701.3 367.1 704.0 367.0 702.0 370.0 699.6 369.0 697.0 369.0 696.0 367.0M636.0 422.0 638.5 422.0 641.0 422.0 640.0 425.0 637.0 424.4 636.0 422.0M652.0 376.0 654.5 376.1 656.8 377.0 659.2 377.2 661.7 377.3 664.0 378.0 666.3 377.4 668.6 378.1 670.9 378.4 673.1 378.3 675.4 378.1 677.7 378.1 680.0 378.0M654.0 384.0 656.4 383.7 658.8 384.4 661.2 384.0 663.6 384.2 666.0 384.0M658.0 390.0 659.8 392.2 662.0 394.0M842.0 291.0 844.3 291.9 846.8 292.3 849.2 292.6 851.6 293.4 854.0 294.0 856.2 294.6 857.9 296.2 860.0 296.9 862.0 298.0 864.4 299.3 867.0 299.9 869.6 300.8 872.0 302.0 874.2 303.0 876.1 304.5 878.0 306.0 876.3 308.3 874.0 310.0 876.0 311.6 876.7 313.9 878.0 316.0 879.3 318.4 880.0 321.0 882.3 320.9 884.6 321.2 886.9 321.7 889.2 322.0 891.4 322.5 893.7 322.9 896.0 323.0 898.0 323.9 899.8 325.4 901.7 326.5 904.0 327.0 907.0 327.3 910.0 328.0 912.8 327.2 915.5 326.5 918.0 325.0 916.3 323.3 913.9 322.6 912.2 321.0 910.0 320.0 907.6 318.7 904.8 318.4 902.2 317.7 900.0 316.0 902.1 314.6 904.0 313.0 906.5 313.7 909.0 313.8 911.6 314.0 914.0 315.0 917.2 315.4 920.0 317.0 922.5 316.8 924.8 317.8 927.2 318.1 929.7 318.2 932.0 319.0 934.4 319.2 936.8 319.4 939.2 318.8 941.6 319.4 944.0 319.0 942.2 316.3 940.0 314.0 938.3 311.2 936.0 309.0 938.6 308.6 941.2 308.1 943.7 307.3 946.0 306.0 948.5 305.9 950.7 304.6 953.1 304.2 955.4 303.4 957.8 303.0 960.0 302.0 962.0 301.1 964.2 300.4 966.1 299.2 968.0 298.0 970.4 298.3 972.9 298.4 975.3 298.7 977.6 299.3 980.0 300.0 982.9 300.4 985.4 301.7 988.0 303.0 988.5 299.8 990.0 297.0 991.9 295.5 993.9 294.2 996.0 293.0M864.0 295.0 866.3 295.3 868.5 296.0 870.9 295.5 873.1 296.4 875.4 296.5 877.7 296.8 880.0 297.0 882.2 297.7 884.4 298.4 886.7 298.4 888.9 298.7 891.0 299.7 893.4 299.4 895.5 300.1 897.7 300.7 900.0 301.0 902.3 300.8 904.5 301.4 906.7 301.8 908.8 302.4 911.1 302.2 913.3 302.9 915.5 302.8 917.8 302.9 920.0 303.0 922.3 303.3 924.4 302.3 926.7 302.4 928.9 302.3 931.1 301.8 933.4 302.0 935.6 301.5 937.8 301.2 940.0 301.0 942.4 300.0 944.9 299.3 947.1 297.8 949.5 296.9 952.0 296.0 953.9 293.4 956.0 291.0M886.0 313.0 890.0 314.0 889.0 315.6 886.0 315.0 886.0 313.0M809.0 292.0 810.5 293.7 811.7 295.6 813.5 297.0 814.8 298.9 816.5 300.4 818.0 302.0 819.0 304.0 820.0 306.0 818.9 308.1 817.4 310.1 816.0 312.0 817.7 314.3 819.7 316.3 822.0 318.0 823.1 320.3 825.0 322.0 826.6 323.9 828.0 326.0 826.1 327.3 824.0 328.0 821.9 328.9 820.0 330.0 822.4 331.3 825.1 331.7 827.5 333.1 830.0 334.0 832.3 335.4 834.9 336.2 837.6 336.6 840.0 338.0 838.2 339.5 836.4 341.0 834.3 342.2 831.9 342.7 830.0 344.0 827.9 345.0 825.9 346.2 823.8 347.2 821.7 348.2 820.0 350.0 817.8 350.6 815.9 351.7 813.9 352.7 811.8 353.7 809.9 354.8 807.9 355.7 806.1 357.2 804.0 358.0 802.0 358.9 800.0 360.0 797.9 360.7 796.0 362.0 793.8 362.7 791.5 363.3 789.3 364.0 786.9 363.7 784.5 363.7 782.2 364.2 780.0 365.0M780.0 376.0 782.3 375.6 784.6 375.7 786.9 375.6 789.2 375.1 791.4 374.4 793.7 374.0 796.0 374.0 798.3 373.0 800.7 372.1 803.1 371.4 805.6 370.9 808.0 370.0 810.3 370.7 812.7 370.1 815.0 370.5 817.4 370.1 819.7 370.2 822.0 371.0 819.3 370.0 816.7 368.9 814.0 368.0 811.6 367.2 809.0 367.3 806.5 367.7 804.0 367.0M796.0 376.0 794.6 378.1 793.0 380.0 791.1 381.7 790.0 384.0 789.8 386.6 790.7 389.1 791.5 391.5 792.0 394.0 793.4 395.8 794.0 398.0 795.3 399.9 796.0 402.0 797.0 404.4 797.8 406.8 798.4 409.3 798.0 412.0M780.0 396.0 782.6 396.9 785.4 397.0 788.0 398.0 789.8 399.3 792.1 399.7 793.9 401.2 796.0 402.0M780.0 416.0 782.2 415.0 784.4 414.2 786.8 414.2 789.1 413.4 791.5 413.3 793.6 412.3 796.0 412.0 798.4 411.7 800.6 412.6 802.8 413.1 805.1 413.6 807.4 413.9 809.7 413.5 812.0 414.0 814.4 414.4 816.8 415.0 819.2 415.3 821.5 416.1 824.0 416.0 826.0 417.0 827.8 418.4 829.8 419.4 832.0 420.0 832.8 422.4 833.7 424.9 833.6 427.5 834.0 430.0M336.0 434.0 339.1 433.3 342.0 432.0 344.4 431.5 346.8 431.3 349.2 431.5 351.6 430.9 354.0 431.0 356.5 431.0 359.0 430.6 361.4 429.2 364.0 430.0M386.0 431.0 387.0 433.2 387.3 435.7 388.0 438.0 387.5 440.7 386.3 443.2 386.0 446.0 385.5 448.7 384.4 451.3 384.0 454.0 381.3 454.7 378.6 455.2 376.0 456.0 373.6 456.4 371.2 457.2 368.8 457.9 366.3 458.1 364.0 459.0 361.3 459.2 358.8 459.9 356.4 460.9 354.0 462.0 351.6 462.3 349.2 462.9 346.8 462.3 344.4 462.4 342.0 463.0 340.2 461.5 338.0 461.0 336.0 460.0 335.1 457.9 334.0 456.0 336.3 455.5 338.3 454.6 340.0 453.0 342.3 450.7 344.0 448.0 346.0 446.6 347.9 445.3 350.0 444.0 347.6 443.1 345.0 443.0 342.5 442.3 340.0 442.0 338.8 439.9 337.8 437.7 336.0 436.0M364.0 433.0 366.3 434.5 369.1 434.3 371.9 433.9 374.0 436.0 376.2 434.4 378.7 434.5 381.2 434.7 383.7 435.2 386.0 434.0M416.0 430.0 417.4 432.3 420.4 432.4 422.0 434.5 424.0 436.0 422.7 438.9 422.0 442.0 424.9 443.1 428.0 443.0 425.7 442.8 423.4 443.4 421.1 443.1 418.8 442.6 416.5 442.8 414.2 442.4 412.0 444.0 409.0 443.2 406.0 443.0 407.3 445.4 408.0 448.0 406.1 450.1 404.0 452.0 401.8 453.8 400.1 456.1 398.0 458.0 398.8 460.1 400.0 462.0 402.4 462.8 404.8 462.4 407.2 462.7 409.6 463.0 412.0 463.0 414.4 462.9 416.8 462.3 419.2 462.0 421.6 462.3 424.0 462.0 426.4 461.7 428.7 460.8 431.0 460.0 429.0 461.4 426.5 461.9 424.2 462.7 422.3 464.1 420.0 465.0 417.6 465.4 415.1 465.4 412.7 465.6 410.3 466.3 408.0 467.0 405.9 469.4 404.0 472.0 401.9 472.9 400.1 474.2 398.2 475.4 396.3 476.5 394.0 477.0 392.0 479.0 394.7 478.6 397.3 478.2 400.0 478.0 402.5 477.5 405.0 476.9 407.5 476.5 410.0 476.0 411.8 474.6 413.7 473.4 416.0 473.0 418.4 473.1 420.7 472.6 423.0 472.1 425.3 472.3 427.7 472.5 430.0 472.0 432.5 471.5 435.0 471.5 437.5 471.1 440.0 471.0 442.3 470.9 444.6 470.4 446.9 470.2 449.1 471.2 451.4 471.5 453.7 471.2 456.0 471.0 458.7 470.8 461.3 470.1 464.0 470.0 466.4 469.5 468.7 468.7 471.1 468.5 473.5 467.8 475.8 467.2 478.0 466.0 476.5 463.9 474.0 463.0 471.5 462.4 468.9 462.5 466.4 462.0 464.0 461.0 466.5 459.4 469.1 458.3 472.0 458.0 473.6 456.3 475.9 455.7 478.1 455.2 480.0 454.0 480.1 451.0 480.0 448.0 477.4 447.1 474.8 446.7 472.0 447.0 469.5 447.2 467.0 447.0 464.5 447.1 462.0 447.0 462.6 444.3 464.0 442.0 462.9 439.8 461.2 438.1 460.0 436.0 458.0 434.0 456.0 432.0 454.1 430.9 452.0 430.0M403.0 435.0 406.1 434.5 408.0 432.0 408.0 434.0 405.3 433.5 403.0 435.0M402.0 495.0 404.5 494.6 407.0 494.4 409.5 493.8 412.0 494.0 414.7 493.6 417.5 493.3 420.0 492.0 423.0 493.0 426.0 494.0 428.0 495.0 430.4 494.3 432.8 494.1 435.2 494.0 437.6 494.5 440.0 494.0 441.5 492.3 442.0 490.0 441.2 487.4 439.1 485.4 438.0 483.0 441.0 483.7 444.0 484.0 446.9 485.3 450.0 486.0 452.5 486.6 454.9 487.2 457.5 486.6 460.0 487.0 462.0 484.0 464.3 482.6 467.0 482.1 469.7 481.5 472.0 480.0 475.1 479.4 478.0 478.0 478.6 475.7 479.4 473.4 480.0 471.0M402.0 495.0 402.7 498.1 404.0 501.0 406.2 502.3 408.0 504.0 410.5 504.3 412.9 504.8 415.3 505.2 417.7 506.1 420.0 507.0 422.5 507.1 424.9 507.7 427.4 508.2 429.6 509.3 432.0 510.0 434.3 510.5 436.0 512.0 438.2 512.7 440.0 514.0 442.0 515.6 442.9 518.1 444.7 519.9 446.0 522.0 446.7 524.6 447.5 527.2 448.4 529.8 450.0 532.0 449.4 534.7 448.8 537.4 448.0 540.0 447.5 542.7 445.8 544.9 444.5 547.3 444.0 550.0 442.0 553.0M472.0 560.0 474.6 560.5 477.3 560.7 480.0 561.0 482.4 561.4 484.7 562.5 487.2 562.9 489.6 563.6 492.0 564.0 494.2 565.8 496.3 567.7 498.0 570.0M496.0 570.0 495.9 567.6 496.7 565.3 497.1 563.0 497.0 560.6 497.9 558.4 498.0 556.0 500.4 554.9 502.9 553.8 505.3 552.6 508.0 552.0 510.4 551.3 512.8 551.8 515.2 551.3 517.6 550.8 520.0 551.0 522.4 551.4 524.9 551.9 527.1 553.1 529.7 553.1 532.0 554.0 534.7 554.1 537.3 553.0 540.0 553.0M532.0 518.0 534.3 516.3 536.0 514.0 538.2 513.3 540.0 512.0M532.0 522.0 533.9 520.7 536.0 520.0M628.0 434.0 630.0 435.3 632.1 436.5 634.0 438.0 633.3 440.2 632.4 442.2 631.3 444.2 630.0 446.0 631.2 448.2 632.4 450.4 633.9 452.5 636.0 454.0 636.5 456.4 637.1 458.8 636.9 461.3 637.9 463.5 638.0 466.0 638.9 468.0 640.0 470.0M606.0 477.0 608.3 476.0 610.8 475.7 612.9 474.2 615.4 473.8 617.6 472.7 620.0 472.0 622.4 470.8 624.8 469.8 627.5 469.8 630.0 469.0 632.5 469.3 635.0 469.2 637.5 469.5 640.0 470.0M606.0 477.0 607.2 479.0 609.1 480.4 610.5 482.3 612.0 484.0 614.0 485.1 615.8 486.5 617.1 488.3 618.7 489.9 620.7 491.0 622.6 492.1 624.0 494.0 626.3 492.9 628.8 493.0 631.2 492.7 633.6 492.1 636.0 492.0 638.4 491.7 640.8 492.3 643.2 492.8 645.6 493.2 648.0 493.0M540.0 542.0 541.1 540.0 541.7 537.9 542.5 535.7 544.0 534.0 542.7 532.0 541.2 530.1 540.0 528.0M864.0 453.0 865.8 454.9 868.2 456.2 869.9 458.4 872.0 460.0 873.4 461.9 874.4 464.2 876.0 466.0 878.5 467.2 881.3 467.6 884.0 468.0 885.4 469.8 885.8 472.1 886.9 474.0 888.0 476.0 890.4 476.5 892.8 475.9 895.2 475.6 897.6 476.2 900.0 476.0 902.5 476.4 905.1 476.6 907.6 477.2 910.0 478.0 912.5 478.5 915.1 478.4 917.5 479.3 920.0 480.0 922.4 480.2 924.8 480.7 927.3 480.8 929.6 481.6 932.0 482.0 934.6 483.0 937.2 483.9 940.0 484.0 940.9 486.0 942.0 488.0 939.8 489.8 938.0 492.0 939.0 495.0 940.0 498.0 937.8 499.8 936.0 502.0 933.8 502.9 931.4 502.9 929.0 503.1 926.8 504.0 924.5 504.7 922.3 505.3 920.0 506.0 917.9 507.9 916.0 510.0 918.4 509.5 920.8 510.3 923.2 509.8 925.6 509.6 928.0 510.0 932.0 511.0 929.8 512.2 927.3 512.7 924.8 512.7 922.5 513.9 920.0 514.0 918.3 515.6 916.0 516.1 914.2 517.3 912.0 518.0 914.3 518.4 916.1 519.8 918.0 521.0 920.0 522.0 918.0 523.0 915.9 523.8 914.1 525.3 912.0 526.0 912.0 530.0 909.6 530.1 907.1 530.5 904.9 531.5 902.5 532.2 900.0 532.0M852.0 517.0 854.0 518.0 856.0 519.0 858.1 519.8 860.0 521.0 862.5 520.9 864.9 521.5 867.3 521.7 869.6 522.5 872.0 523.0 874.5 522.3 876.7 520.8 879.2 520.0 881.7 519.2 884.0 518.0 886.2 517.2 888.6 517.1 891.0 516.9 893.2 515.9 895.4 515.1 897.8 514.9 900.0 514.0 902.3 513.6 904.6 512.8 907.0 512.7 909.3 512.2 911.4 511.2 913.7 510.3 916.0 510.0M850.0 530.0 852.4 528.8 854.9 527.9 857.7 527.4 860.0 526.0 862.7 525.8 865.2 525.2 867.7 524.4 870.0 523.0 872.3 524.4 875.1 524.3 877.5 525.2 880.0 526.0 881.7 528.3 884.0 530.0 886.5 531.3 889.3 531.4 892.0 532.0 894.6 531.3 897.4 530.8 900.0 530.0 902.7 530.6 905.3 531.3 908.0 532.0 908.6 529.8 910.0 528.0 911.9 526.6 913.9 525.5 915.7 523.9 917.7 522.6 920.0 522.0M850.0 530.0 852.3 531.5 854.8 532.5 857.2 533.7 860.0 534.0 860.6 537.1 862.0 540.0 864.5 540.6 867.0 540.7 869.5 540.7 872.0 540.0 873.9 538.8 876.0 538.1 877.9 536.8 880.0 536.0 882.4 535.7 884.8 535.0 887.2 534.8 889.7 534.8 892.0 534.0M900.0 532.0 902.4 532.9 904.9 533.4 907.2 534.3 909.6 535.1 912.0 536.0 913.8 537.4 916.0 538.0 918.1 538.8 920.0 540.1 922.2 540.7 924.0 542.0 926.0 542.9 927.8 544.4 929.9 545.2 932.1 545.9 934.0 546.9 936.0 548.0 938.0 550.0 940.0 552.0 942.4 551.6 944.8 551.4 947.2 551.3 949.6 551.5 952.0 552.0 954.5 552.1 956.9 552.4 959.3 552.8 961.7 553.0 964.0 554.0 966.3 554.3 968.5 555.4 970.8 555.9 973.1 556.5 975.4 557.1 977.8 557.2 980.0 558.0 982.5 558.6 985.0 559.0 987.5 559.6 990.0 560.0 992.5 559.6 995.0 559.0 997.5 558.3 1000.0 558.0M944.0 552.0 946.1 552.7 948.2 553.6 950.1 554.8 952.1 555.8 954.0 557.0 956.0 558.0 957.3 560.2 958.0 562.7 958.2 565.3 959.4 567.5 960.0 570.0M802.0 550.0 800.4 551.6 798.8 553.2 797.4 555.0 795.3 556.1 794.0 558.0 793.6 560.7 792.2 563.2 792.0 566.0 794.3 566.5 796.0 568.0M780.0 568.0 782.4 566.3 785.4 567.1 788.0 566.0 790.0 564.0 792.0 562.0M850.0 570.0 852.3 569.2 854.6 569.0 857.0 568.8 859.4 568.8 861.6 568.0 864.0 568.0 866.3 567.4 868.6 568.0 870.9 568.0 873.1 567.2 875.4 567.0 877.7 566.9 880.0 567.0M840.0 510.0 840.8 513.1 842.0 516.0 844.6 516.5 847.3 517.1 850.0 517.0M489.0 594.0 491.5 593.0 493.8 591.5 496.0 590.0 498.9 591.3 502.0 592.0 500.6 593.8 500.0 596.0 497.8 596.6 496.0 598.0 493.8 596.5 491.5 595.0 489.0 594.0M506.0 590.0 508.5 590.2 511.0 590.0 511.0 592.0M475.0 602.0 477.2 601.4 479.0 600.0 480.0 604.0 476.0 604.0 475.0 602.0M394.0 634.0 396.2 635.0 397.9 636.9 400.0 638.0 402.2 638.6 404.0 640.1 405.9 641.1 408.0 642.0 410.3 641.9 412.5 642.3 414.8 641.9 417.0 641.6 419.3 641.7 421.5 641.8 423.8 641.5 426.0 641.0 428.5 641.8 431.0 642.5 433.5 643.2 436.0 644.0 438.4 643.5 440.6 642.5 443.0 641.8 445.3 641.3 447.6 640.5 450.0 640.0 452.2 638.8 454.7 638.2 457.2 637.4 459.4 636.2 461.7 635.0 464.0 634.0 466.3 632.7 468.7 631.7 471.0 630.5 473.5 629.8 476.0 629.0 478.3 628.6 480.5 627.7 482.9 628.0 485.1 627.2 487.5 627.2 489.8 626.9 492.0 626.0 494.4 626.5 496.6 625.4 498.8 625.1 501.2 625.3 503.4 624.2 505.6 623.6 508.0 624.0 510.4 624.0 512.8 624.3 515.2 625.0 517.6 625.3 520.0 625.0 522.4 624.9 524.9 624.9 527.3 624.1 529.6 623.6 532.0 623.0 535.1 622.3 538.0 621.0 540.0 623.0M389.0 636.0 388.1 638.4 387.2 640.9 386.0 643.2 385.1 645.7 384.0 648.0 382.1 649.3 380.5 650.9 379.1 652.7 377.8 654.6 376.0 656.0 374.1 657.3 372.1 658.2 370.0 659.0 368.0 659.9 365.8 660.6 364.0 662.0 361.7 662.4 359.9 663.7 358.0 664.9 355.9 665.8 353.7 666.4 352.0 668.0 350.7 669.9 349.5 672.0 348.1 673.8 347.4 676.1 346.0 678.0 345.3 680.1 343.6 681.8 342.5 683.8 341.8 685.9 341.0 688.0 341.6 690.5 341.2 693.0 341.4 695.5 342.0 698.0M436.0 644.0 436.7 646.6 437.4 649.3 438.3 651.8 440.0 654.0 440.2 656.4 441.1 658.8 441.5 661.1 441.7 663.6 442.0 666.0 443.4 668.0 445.0 669.8 446.0 672.0 443.7 673.5 441.0 674.1 438.5 674.9 436.0 676.0 433.6 676.7 431.1 676.7 428.7 677.4 426.5 678.7 424.0 679.0 421.6 680.0 418.9 680.3 416.5 681.4 414.0 682.0 412.9 685.0 412.0 688.0 410.3 689.7 408.2 691.0 405.9 691.8 403.9 693.2 401.9 694.4 400.0 696.0M558.0 580.0 560.6 579.0 563.3 578.5 566.0 578.0 568.7 577.3 571.3 576.4 574.0 576.0 575.0 578.0 576.0 580.0 577.0 582.0 576.2 584.4 576.2 587.0 576.2 589.5 576.0 592.0 575.7 594.8 575.2 597.5 574.0 600.0 571.3 600.6 568.8 601.7 566.0 602.0 562.8 601.6 560.0 600.0 559.4 597.5 559.7 595.0 560.2 592.5 560.0 590.0 559.2 586.9 558.0 584.0 558.0 580.0M610.0 613.0 612.6 612.6 614.9 611.2 617.3 610.1 620.0 610.0 622.4 610.4 624.8 610.6 627.2 611.3 629.6 611.5 632.0 612.0 634.3 611.0 636.7 610.4 639.0 609.6 641.6 609.8 644.0 609.0 643.8 611.3 644.1 613.7 644.0 616.0 643.4 618.7 642.8 621.4 642.0 624.0 640.3 625.5 638.0 626.0 636.1 624.8 634.1 623.8 632.3 622.5 630.1 621.8 628.0 621.0 625.4 619.8 622.6 619.2 620.0 618.0 617.4 618.1 615.0 616.8 612.6 616.0 610.0 616.0 610.0 613.0M631.0 634.4 635.0 635.0 634.0 636.4 631.0 634.4M540.0 623.0 542.3 622.8 544.6 623.3 546.9 623.5 549.1 623.0 551.4 623.1 553.7 623.6 556.0 623.0 558.5 622.6 560.9 622.4 563.2 621.2 565.6 620.5 568.0 620.0 570.4 620.0 572.8 619.4 575.2 619.1 577.6 619.5 580.0 619.0 582.4 619.9 584.7 621.0 587.2 621.3 589.7 621.8 592.0 623.0 590.8 625.0 589.4 626.8 587.3 628.1 586.0 630.0 587.6 631.9 589.0 634.0 590.8 635.8 592.0 638.0 592.8 640.6 593.5 643.3 594.0 646.0 592.1 647.5 590.3 649.1 588.4 650.6 586.0 651.3 584.1 652.8 582.0 654.0 583.3 655.8 584.0 658.0 586.2 658.7 588.2 659.9 590.2 661.0 592.4 661.9 594.1 663.6 596.1 664.6 598.0 666.0 600.3 665.8 602.5 666.5 604.8 666.3 607.1 666.5 609.2 667.4 611.5 667.2 613.8 667.5 616.0 668.0 618.4 668.7 620.7 669.3 623.2 669.0 625.6 669.4 628.0 670.0 630.3 670.7 632.6 671.1 634.7 672.2 637.2 672.2 639.3 673.3 641.7 673.6 644.0 674.0 644.9 676.6 645.5 679.3 646.0 682.0 648.5 682.6 650.7 684.0 653.1 684.8 655.2 686.3 657.6 687.2 660.0 688.0 662.3 688.7 664.6 689.2 666.8 690.2 669.1 690.7 671.2 692.0 673.6 692.2 675.8 693.1 678.0 694.0 680.4 694.6 682.9 695.0 685.2 696.0 687.6 696.4 690.0 697.0 692.1 696.1 694.1 695.1 695.9 693.9 697.9 692.8 700.0 692.0 699.5 689.5 699.4 687.0 700.1 684.5 700.0 682.0 700.9 679.4 702.1 677.0 702.6 674.4 704.0 672.0 706.3 671.3 708.5 670.7 710.8 670.2 713.1 669.5 715.3 668.6 717.6 668.1 720.0 668.0 722.3 667.8 724.7 667.9 726.9 668.8 729.2 668.9 731.5 669.2 733.7 670.1 736.0 670.0 737.8 671.4 739.7 672.6 741.7 673.6 744.0 674.0 746.3 674.5 748.6 674.9 751.0 675.1 753.2 676.2 755.4 677.0 757.7 677.3 760.0 678.0M560.0 624.0 560.1 626.3 559.9 628.7 559.7 631.0 560.2 633.3 559.7 635.7 560.0 638.0 559.8 640.5 559.4 643.0 559.5 645.5 559.0 648.0 557.6 650.0 555.3 651.0 553.4 652.5 551.5 654.1 550.0 656.0 551.0 658.6 552.0 661.2 552.0 664.0 554.1 664.9 555.8 666.4 557.5 667.9 559.1 669.4 561.0 670.6 562.6 672.2 564.0 674.0 566.1 675.9 568.3 677.7 570.0 680.0 570.4 682.3 571.0 684.6 571.4 686.9 572.4 689.1 573.0 691.4 573.3 693.7 574.0 696.0M598.0 666.0 598.2 668.7 598.6 671.3 598.0 674.0 596.0 675.1 593.8 676.1 592.0 677.7 590.3 679.3 588.0 680.0 585.9 681.4 583.9 682.9 582.2 684.8 580.0 686.0 581.4 687.8 582.0 690.0 580.5 692.5 578.0 694.0 576.0 696.0M758.0 684.0 757.3 687.1 756.0 690.0 756.4 692.7 756.9 695.4 758.0 698.0M796.0 570.0 798.6 570.7 800.0 573.0 802.1 574.4 804.0 576.0 806.3 576.4 808.5 576.7 810.9 576.4 813.2 576.1 815.4 577.0 817.7 576.9 820.0 577.0 822.4 577.3 824.8 577.0 827.2 576.9 829.6 576.8 832.0 576.0 834.4 575.6 836.5 574.6 838.6 573.3 841.0 573.0 843.2 572.2 845.5 571.5 847.9 571.2 850.0 570.0M882.0 570.0 884.4 570.3 886.6 571.4 889.1 571.6 891.3 572.7 893.6 573.7 896.0 574.0 898.4 574.6 900.7 575.3 902.9 576.5 905.2 577.0 907.6 577.5 910.0 578.0 912.3 578.0 914.7 577.8 917.0 578.1 919.4 578.4 921.7 578.4 924.0 579.0 926.3 578.4 928.5 578.1 930.9 578.5 933.2 578.6 935.4 578.1 937.7 577.8 940.0 578.0 942.2 577.4 944.4 577.0 946.7 577.1 948.9 576.2 951.1 575.6 953.4 575.7 955.5 574.6 957.8 574.4 960.0 574.0 962.4 573.6 964.8 573.9 967.2 573.6 969.6 573.6 972.0 573.0 974.4 573.2 976.8 573.9 979.2 574.3 981.6 574.6 984.0 575.0 986.3 575.4 988.5 575.8 990.9 575.2 993.2 575.3 995.4 575.4 997.7 575.4 1000.0 576.0M780.0 584.0 782.2 582.6 784.6 582.2 787.0 581.6 789.6 582.4 792.0 582.0 794.2 581.6 796.4 580.5 798.7 580.4 801.0 580.6 803.2 580.4 805.4 580.0 807.7 579.5 810.0 580.0 812.7 579.7 815.0 581.2 817.4 581.8 820.0 582.0M788.0 578.0 790.4 577.3 792.6 578.6 794.7 580.0 797.1 579.8 799.5 578.8 801.8 579.4 804.0 580.0 806.9 578.8 810.0 578.0M792.0 585.0 794.2 584.3 796.5 584.8 798.8 583.7 801.0 584.9 803.2 585.1 805.5 585.2 807.8 585.6 810.0 585.0M780.0 594.0 780.7 596.8 782.4 599.2 783.0 602.0 784.1 604.6 784.9 607.2 784.0 610.0 786.3 612.3 785.4 615.3 786.0 618.0 784.3 620.8 784.0 624.0 786.6 623.2 789.1 621.9 792.0 622.0 794.7 622.6 797.1 624.1 800.0 624.0 802.5 625.5 805.3 625.3 808.0 626.0 809.8 627.8 811.7 629.4 813.7 630.9 816.0 632.0 818.5 631.0 820.9 629.7 823.6 629.2 826.0 628.0 826.9 626.0 828.0 624.0 830.4 624.2 832.8 624.8 835.2 625.0 837.6 625.9 840.0 626.0 842.1 627.1 844.3 627.9 846.1 629.4 848.0 630.8 850.0 632.0 852.5 632.4 855.0 632.4 857.5 632.6 860.0 632.0 862.4 631.5 864.2 629.9 866.1 628.5 867.8 626.9 870.0 626.0 872.5 625.4 875.0 625.4 877.5 624.8 880.0 625.0 882.4 624.8 884.8 624.2 887.2 624.2 889.6 624.6 892.0 624.0 893.3 626.9 894.0 630.0 893.6 633.2 892.0 636.0 893.8 633.8 895.6 631.6 898.0 630.0 900.0 627.5 902.0 625.0 904.9 624.0 908.0 624.0M792.0 634.0 794.6 632.6 796.9 630.9 798.0 628.0 800.0 630.0 797.1 631.1 795.7 633.7 794.0 636.0 792.0 634.0M784.0 636.0 785.5 637.8 786.0 640.0M780.0 598.0 781.7 600.3 784.0 602.0M848.0 645.0 850.7 644.0 853.3 642.9 856.0 642.0 858.5 641.3 861.0 640.8 863.5 640.6 866.0 640.0 868.8 639.7 871.5 639.3 874.0 638.0 872.0 639.4 870.1 640.9 868.0 642.0 866.1 644.1 864.0 646.0 861.3 646.7 858.7 647.5 856.0 648.0 853.3 648.1 850.6 648.0 848.0 647.0 848.0 645.0M894.0 636.0 892.8 638.1 891.4 640.1 890.0 642.0 891.1 644.3 892.5 646.4 893.9 648.4 896.0 650.0 894.3 651.6 893.2 653.6 892.5 655.8 892.0 658.0 890.0 659.7 889.2 662.1 887.4 663.9 886.0 666.0 884.9 667.9 884.1 670.1 883.0 672.0 882.0 674.0 880.1 675.7 878.8 677.9 877.3 679.8 876.0 682.0 874.1 684.1 872.0 686.0 873.2 687.9 873.7 690.1 875.3 691.8 876.5 693.8 877.0 696.0 878.0 698.0M780.0 684.0 782.4 684.3 784.9 684.3 787.2 685.2 789.6 685.4 792.0 686.0 794.2 686.5 796.5 686.9 798.8 687.5 801.0 688.1 803.3 688.4 805.6 688.5 807.9 689.0 810.0 690.0 812.3 689.3 814.6 688.4 816.7 687.1 819.2 686.8 821.4 685.6 823.5 684.4 826.0 684.0 828.3 683.6 830.6 683.3 833.0 683.3 835.3 683.3 837.6 682.9 840.0 683.0 842.5 683.7 845.1 684.1 847.6 685.1 850.0 686.0 852.5 686.3 855.0 686.0 857.5 686.4 860.0 687.0 862.3 686.0 864.7 685.9 867.2 686.0 869.6 685.6 872.0 685.0M972.0 619.0 969.9 619.9 967.8 620.9 966.1 622.6 963.8 623.1 961.8 624.2 960.1 626.0 957.9 626.7 956.0 628.0 955.7 630.3 955.7 632.7 954.7 635.0 954.4 637.3 953.9 639.6 954.0 642.0 953.5 644.7 952.5 647.3 952.0 650.0 950.0 651.3 947.8 652.2 945.6 653.1 943.5 654.3 941.2 654.7 939.1 655.8 936.9 656.7 934.5 657.2 932.4 658.2 930.0 658.7 928.0 660.0 925.9 660.7 923.8 661.5 921.9 662.7 919.7 663.5 917.7 664.4 916.0 666.1 913.9 666.8 912.0 668.1 909.9 668.8 907.9 669.7 905.8 670.6 904.1 672.2 902.1 673.2 900.0 674.0 897.6 672.9 895.2 671.5 892.7 670.5 890.0 670.0M882.0 674.0 883.7 672.2 885.9 671.2 888.0 670.0M884.0 676.0 883.8 678.5 882.8 680.7 881.7 682.9 881.6 685.4 880.3 687.6 880.0 690.0 880.3 692.7 881.4 695.3 882.0 698.0M904.0 684.0 905.9 685.2 907.6 686.7 909.0 688.5 910.7 689.9 912.8 690.9 914.7 692.1 916.0 694.0 915.7 696.3 914.0 698.0M904.0 684.0 906.2 683.7 908.3 682.6 910.5 682.1 912.5 681.3 914.8 681.0 916.9 680.2 919.0 679.3 921.3 679.3 923.4 678.6 925.6 678.1 927.8 677.7 930.0 677.3 932.0 676.0 934.2 676.3 936.4 676.8 938.7 677.1 940.8 678.0 942.8 679.0 945.0 679.7 947.3 679.5 949.6 679.9 951.6 681.0 953.8 681.7 956.0 682.0 957.8 683.2 959.7 684.4 961.8 685.4 963.3 687.1 965.2 688.1 966.9 689.7 968.8 690.9 971.0 691.6 972.8 692.8 974.7 693.9 976.2 695.7 978.0 696.9 980.0 698.0M992.0 590.0 992.0 592.6 991.6 595.1 990.9 597.6 990.0 600.0 991.4 601.9 992.4 604.0 993.7 605.9 995.0 607.9 996.0 610.0 997.0 612.3 997.0 614.8 997.5 617.2 998.2 619.5 998.0 622.0 1000.0 624.0M972.0 619.0 974.4 618.8 976.8 619.1 979.2 618.1 981.6 617.7 984.0 618.0 986.3 618.5 988.6 618.9 990.9 619.4 993.2 620.1 995.5 620.5 997.7 621.4 1000.0 622.0M984.0 574.0 984.3 576.3 984.2 578.7 984.2 581.1 985.5 583.3 985.7 585.7 986.0 588.0 988.3 589.0 990.5 589.9 992.9 590.5 995.2 591.0 997.6 591.6 1000.0 592.0M926.0 662.0 926.8 664.3 927.6 666.6 927.8 669.1 928.2 671.5 928.7 673.9 930.0 676.0M700.0 425.0 702.7 424.9 705.3 424.2 708.0 424.0 710.6 422.2 713.0 420.0 714.3 417.1 715.0 414.0 713.6 411.9 712.0 410.0 712.2 407.0 712.0 404.0 714.0 402.0 716.0 400.0 718.0 398.0 720.0 396.0 722.5 395.5 724.9 394.7 727.4 394.5 730.0 394.5 732.2 395.4 734.0 397.0 736.3 398.8 739.0 400.0 742.0 403.0 746.0 403.5 750.0 402.0 753.0 399.5 752.6 396.2 752.0 393.0 752.9 390.5 754.0 388.0 750.0 387.5 746.9 387.1 744.0 386.0 741.0 384.0 744.0 383.3 747.0 383.5M724.0 382.0 726.4 381.7 728.7 381.3 731.1 380.9 733.5 381.6 735.9 381.4 738.2 381.2 740.6 381.2 743.0 381.0M723.0 387.0 725.4 386.4 727.8 385.8 730.2 385.3 732.6 385.1 735.1 384.8 737.6 384.9 740.0 384.5M724.0 391.0 727.0 390.1 730.0 389.0M754.0 392.0 757.0 392.2 760.0 391.5 762.5 391.9 764.9 392.7 767.5 392.9 770.0 393.0 772.2 393.9 774.3 394.9 776.0 396.5 780.0 396.0 782.7 396.4 785.2 397.5 788.0 397.5 791.0 398.8 794.0 400.0 793.0 404.0 794.4 406.2 796.3 408.0 798.0 410.0 800.0 412.0 802.4 412.8 805.0 412.5 807.5 413.0 810.0 413.5M794.0 380.0 791.7 381.1 790.0 383.0 790.0 385.3 790.3 387.7 790.0 390.0 793.0 393.0 790.9 395.5 788.0 397.0M713.0 412.0 715.2 411.0 717.6 410.3 720.0 410.0 722.5 409.8 725.0 409.2 727.5 409.0 730.0 409.0 732.5 408.8 735.0 409.4 737.5 410.1 740.0 410.0 742.5 410.5 745.0 410.1 747.5 410.5 750.0 410.5 752.5 411.0 755.0 410.6 757.5 409.8 760.0 410.0 762.4 410.9 764.9 412.0 767.5 412.3 770.0 413.0 772.2 413.7 774.2 414.5 776.1 415.8 778.0 417.0 780.7 417.0 783.4 416.6 786.0 416.0 788.6 415.6 790.6 414.0 793.0 413.0 795.3 412.5 797.7 412.5 800.0 412.0M392.0 393.0 394.0 390.0 396.7 388.3 399.0 386.0 401.5 385.4 404.0 385.0 407.0 385.4 410.0 385.0 412.2 384.5 414.4 383.3 416.7 383.5 419.0 384.0 420.0 381.5 422.9 380.4 426.0 381.0 424.0 384.0 422.1 385.2 420.0 386.0 418.3 387.9 416.0 389.0 414.1 390.2 412.0 391.0 410.0 394.0 412.5 394.3 415.0 393.7 417.5 394.0 420.0 394.5 422.3 394.0 424.5 395.0 426.7 395.2 429.0 395.8 431.3 395.2 433.5 395.7 435.7 396.1 438.0 396.0 437.1 398.0 436.0 400.0 434.4 402.8 432.0 405.0 430.4 407.4 428.0 409.0 425.1 410.2 422.0 410.0 419.8 410.6 418.4 412.8 416.0 413.0 418.4 413.4 420.8 413.1 423.2 413.1 425.6 413.1 428.0 413.0 430.3 414.1 432.6 415.2 435.0 416.0 437.4 417.7 440.0 419.0 441.1 421.0 441.8 423.1 443.0 425.0 446.0 428.0 448.1 428.9 450.0 430.0 452.4 432.1 455.0 434.0 457.4 435.3 460.0 436.0M392.0 393.0 390.0 396.0 388.4 397.7 388.0 400.0 390.1 401.9 392.0 404.0 395.0 406.0 396.0 408.4 398.0 410.0 399.1 412.7 402.0 413.0 404.0 415.0 403.0 418.0 401.0 419.7 400.0 422.0 398.8 424.2 397.0 426.0 399.0 426.9 401.0 428.0 403.5 428.8 405.6 426.9 408.0 427.0 410.5 425.2 413.2 425.6 416.0 426.0 418.7 425.9 421.4 426.0 424.0 425.5M418.0 427.0 419.3 429.4 420.0 432.0 422.9 433.4 426.0 434.0 425.1 436.1 424.0 438.0 422.8 439.9 422.0 442.0 419.5 443.3 416.9 444.3 414.0 443.0 411.3 445.2 408.0 444.0 406.0 447.0M369.0 396.0 372.0 395.0 373.5 393.0 376.0 393.0 375.0 390.0 377.3 388.5 380.0 388.0 383.0 387.4 386.0 387.0 383.0 390.0 380.6 391.8 377.4 391.3 375.0 393.0 374.0 395.3 373.8 398.0 372.0 400.0 372.1 402.6 370.0 404.0 369.7 401.3 370.4 398.5 369.0 396.0M377.0 408.0 379.3 406.6 382.0 407.0 384.7 406.6 386.0 409.0M382.0 416.0 385.1 416.2 388.0 415.0 390.0 418.0M392.0 420.0 394.0 418.0M403.0 435.0 405.2 432.9 408.0 432.0 407.0 434.0 403.0 435.0M350.0 433.0 353.2 432.5 356.0 431.0 357.2 428.8 358.2 426.4 359.0 424.0 361.9 422.7 365.0 422.0 367.4 422.3 369.7 421.5 372.0 421.0 375.1 421.4 378.0 422.5 380.5 423.5 383.0 422.1 385.5 423.2 388.0 423.0 390.0 426.0 392.7 427.3 394.0 430.0 393.1 432.0 392.0 434.0 389.6 435.3 387.0 436.0 386.0 440.0 385.4 442.6 387.3 444.9 387.0 447.5 387.0 450.0M350.0 433.0 352.5 432.2 355.1 431.9 357.7 431.4 360.0 430.0 362.8 431.6 366.0 432.0 368.2 431.6 370.5 431.2 372.8 431.0 375.0 432.0 377.6 431.9 380.0 433.0 382.4 433.1 384.5 433.9 386.0 436.0M406.0 393.0 408.5 394.3 411.2 395.0 414.0 395.0M420.0 410.0 422.6 409.4 425.4 409.8 428.0 409.0M452.0 439.0 454.6 438.4 457.3 438.3 460.0 438.0M520.0 482.0 522.6 482.6 524.9 484.2 527.3 485.5 530.0 486.0 532.5 486.7 534.9 487.8 537.4 488.7 540.0 489.0 542.5 489.2 545.0 489.3 547.5 489.6 550.0 490.0 552.6 490.7 555.4 490.5 558.0 491.0 555.9 493.4 554.0 496.0 552.9 497.9 552.0 500.0M606.0 477.0 608.0 476.0 610.0 475.0 612.5 474.3 615.1 473.9 617.5 472.6 620.0 472.0 622.6 471.9 625.0 471.0 627.6 470.8 630.0 470.0M606.0 477.0 607.2 479.2 609.0 481.0 609.7 483.5 610.0 486.0 612.4 487.3 614.7 488.6 617.5 489.1 620.0 490.0 622.3 491.1 624.0 493.0 622.5 495.9 620.0 498.0M551.1 490.0 554.2 491.2 557.5 491.3 556.5 493.6 554.7 495.4 553.6 497.8 552.6 500.5 551.1 502.9 549.8 506.8 546.5 507.3 543.3 508.1 541.6 510.3 539.4 512.0 537.6 514.1 535.1 515.5 532.9 517.2 532.7 519.6 531.6 521.7 534.2 519.8 537.5 519.4 540.7 519.8 542.4 522.5 544.6 524.9M544.6 524.9 547.0 524.7 549.4 524.6 551.8 524.4 554.0 523.0 556.4 522.4 558.8 522.3 560.2 520.5 561.4 518.5 562.9 520.4 565.1 521.6 566.6 523.6 569.1 521.6 571.8 519.8 574.4 519.8 577.0 520.4 579.5 521.1 580.9 518.9 582.4 517.1 584.7 515.9 587.3 513.3M549.8 506.8 552.4 507.1 554.9 506.3 557.6 506.5 560.1 505.6 562.7 505.5 565.0 505.7 567.4 505.6 569.7 506.0 572.1 506.1 574.3 506.8 576.9 507.1 579.6 507.1 582.1 507.9 584.7 508.1 587.3 507.9 589.8 507.2 592.4 507.0 595.0 506.9 597.6 506.8 600.3 506.9 602.8 506.3 605.4 505.7 608.0 506.2 610.6 505.5 613.3 505.5 615.7 504.2 616.9 501.1 617.0 497.8 619.2 496.9 621.2 495.7 623.5 495.2 623.1 492.6 623.5 490.0M544.6 524.9 543.7 527.1 542.6 529.2 541.0 530.9 539.4 532.7 541.5 534.5 543.3 536.6 543.3 539.2 543.3 541.8 545.9 542.5 548.7 542.9 551.1 544.3 552.3 546.9M552.3 546.9 550.1 547.4 548.0 548.0 545.9 548.9 543.5 549.9 541.3 551.0 539.0 552.0 536.8 553.4 534.4 553.7 532.2 554.5 530.4 556.0 528.5 554.2 526.1 553.3 523.9 552.1 520.0 550.8M552.3 546.9 554.3 545.7 556.4 544.7 558.8 544.2 560.7 542.9 562.7 541.8 565.0 542.0 567.2 542.3 569.6 542.3 571.8 543.0 574.3 544.0 577.0 544.0 579.5 544.9 582.1 545.6 583.0 548.4 584.7 550.8 585.6 552.9 586.3 555.2 587.3 557.3 589.9 558.5 592.5 559.9 594.6 560.9 596.6 562.1 598.6 563.2 600.2 565.0 602.4 566.4 604.6 567.9 606.7 569.5 609.3 570.2 611.3 571.3 613.1 572.9 615.2 574.0 617.0 575.4 619.3 576.1 621.5 576.8 623.9 577.0 626.1 578.0 628.3 580.0 631.4 580.4 633.9 581.9 636.4 583.3 638.8 584.9 641.6 585.7 643.2 587.6 644.9 589.3 646.8 590.9 647.5 593.8 649.4 596.1 650.7 598.0 652.0 600.0M574.3 510.7 576.9 512.1 579.4 513.6 582.1 514.6 584.7 513.3 587.3 512.0 589.8 512.6 592.5 512.6 595.0 513.0 597.6 513.3 600.2 513.0 602.8 512.7 605.4 512.0 608.0 513.9 610.6 515.9 613.1 516.5 615.7 516.9 618.4 517.1 620.9 517.8 623.5 518.1 626.1 518.5 628.6 517.6 631.3 517.2 633.9 517.5 636.4 517.3 639.0 517.5 641.6 517.2 644.2 516.9 646.8 516.4 649.4 515.9 651.9 514.7 654.4 513.7 657.1 513.3 660.0 512.0M615.7 504.2 618.5 503.8 621.0 502.7 623.5 501.6 624.9 499.1 626.1 496.5 628.1 494.6 630.0 492.6 633.3 492.3 636.4 491.3 639.7 490.5 642.9 490.0M642.9 491.3 645.5 491.2 648.1 492.0 650.7 492.1 653.2 492.5 655.9 492.6 660.0 493.9M620.9 519.8 621.6 522.6 623.5 524.9 624.8 528.8 626.9 531.1 630.0 531.4 633.9 532.7M626.1 518.5 627.8 520.1 630.4 520.4 632.2 521.9 633.9 523.6 636.5 523.7 639.1 523.8 641.6 522.3 644.2 522.3 646.3 519.7 649.4 518.5 651.8 517.0 654.3 516.0 657.1 515.9M605.4 531.4 607.9 530.0 610.6 528.8 613.2 528.2 615.8 527.2 618.3 526.2 620.9 524.9 622.2 522.3 620.9 519.8M605.4 531.4 607.4 533.3 609.3 535.3 608.4 537.5 606.7 539.2 608.3 541.6 609.3 544.3 611.0 546.0 613.2 546.9 615.1 548.1 617.3 548.6 619.4 549.3 621.2 550.6 623.5 550.8 623.6 553.3 625.6 555.0 626.1 557.3 627.9 560.0 630.0 562.5 632.2 564.0 634.3 565.9 636.4 567.6 639.2 567.8 641.7 568.4 644.3 569.0 646.8 570.2 649.6 571.1 652.0 572.8 655.0 572.5 657.7 573.5 660.0 575.4M622.2 522.3 622.9 524.6 624.7 526.4 624.8 528.8 627.5 530.0 628.7 532.7 630.6 534.6 632.6 536.6 634.9 538.9 636.4 541.8 639.2 542.1 641.9 542.7 644.2 544.3 646.6 546.5 649.4 548.2 651.9 548.9 653.6 550.8 655.4 552.7 658.0 553.2 660.0 554.7M562.7 563.7 564.8 562.0 567.2 560.5 569.2 558.6 573.0 557.3 573.4 559.9 574.3 562.5 573.1 565.1 571.8 567.6 571.6 571.0 570.5 574.1 567.8 573.7 565.3 572.8 563.7 570.3 562.7 567.6 562.7 563.7M557.5 580.6 560.8 580.2 564.0 579.3 566.2 578.5 568.5 577.8 570.8 577.4 573.0 576.7 574.0 578.8 575.6 580.6 576.1 583.2 576.6 585.7 576.9 588.3 576.5 590.9 575.6 593.4 575.6 596.1 574.3 600.0M557.5 580.6 558.7 582.6 558.9 585.0 560.1 587.0 560.4 589.7 561.4 592.2 560.9 594.8 560.3 597.4 560.1 600.0M581.5 559.2 585.3 559.2M631.3 532.7 633.8 531.7 636.4 531.4 638.6 533.5 639.0 536.6 640.7 538.3 642.6 539.9 644.2 541.8 646.8 544.3M639.0 544.3 640.9 545.7 642.9 546.9M640.0 567.3 642.3 567.5 644.5 568.6 646.8 568.9 649.3 567.7 651.5 568.4 653.8 568.7 652.5 571.3 650.9 573.8 653.3 574.6 655.4 576.2 658.0 576.6 660.4 577.5 662.5 578.2 664.5 579.6 666.8 579.9 669.1 580.4 671.2 581.5 673.4 582.6 675.5 584.0 677.8 584.7 679.7 587.2 682.2 589.1 680.0 591.3 676.4 589.1 674.1 587.5 671.6 586.6 669.1 585.5 666.1 585.6 663.3 584.7 661.6 586.9 659.8 589.1 658.2 591.3 659.8 593.3 661.8 594.9 663.9 596.1 666.2 596.4 666.2 600.7 663.3 601.7 660.4 602.2 658.6 603.7 656.8 605.2 654.5 605.8 652.6 607.5 650.9 609.5 648.7 610.9 646.7 612.2 644.4 612.4 640.0 612.4M640.0 587.6 642.1 588.5 644.3 588.9 646.6 588.9 648.7 589.8 649.9 592.5 650.9 595.3 652.4 597.8 653.4 600.8 654.5 603.6 652.6 605.5 650.2 606.5 648.0 608.0 645.8 609.5 644.4 611.4 642.9 613.3 641.5 615.3 641.1 617.8 641.3 620.2 642.2 622.5 640.0 625.5M672.0 560.0 674.2 561.0 676.7 560.2 679.0 560.4 681.3 561.0 683.6 561.5 686.1 562.1 687.0 564.7 689.2 565.6 690.9 567.3 693.3 569.2 695.3 571.6 694.6 574.2 693.7 576.6 692.4 578.9 692.2 581.3 692.2 583.8 692.4 586.2 694.5 588.4 696.7 590.5 697.5 592.7 698.2 594.9 700.7 594.6 702.5 596.4 705.3 597.0 706.9 599.3 709.6 601.1 712.7 602.2 710.0 602.9 708.4 605.1 705.9 606.6 705.5 609.5 707.6 611.6 709.8 613.8 712.7 615.3M695.3 560.0 697.6 560.4 699.6 561.5 702.7 561.9 704.7 564.0 706.9 565.8 707.0 568.1 706.5 570.2 706.0 572.4 705.5 574.5 706.8 576.6 708.6 578.3 709.8 580.4 708.5 583.1 708.4 586.2 706.5 588.7 704.0 590.5 701.9 592.3 701.1 594.9M706.9 565.8 709.5 565.6 711.9 564.1 714.4 563.8 717.1 564.4 719.4 564.0 721.7 564.0 724.1 564.4 726.4 563.9 728.7 564.4 731.1 565.2 732.4 567.6 734.5 568.7 734.9 571.6 734.5 574.5 732.0 575.2 729.4 575.7 727.3 577.5 724.7 576.8 722.2 577.3 719.6 576.3 717.1 577.5 714.1 577.8 711.3 578.9 709.9 576.0 706.9 574.5M730.2 560.0 730.2 564.4 732.9 565.6 734.5 567.8 736.0 570.2 738.2 571.0 740.7 570.6 742.4 572.7 744.7 573.1 747.1 572.4 749.4 573.2 751.8 572.7 754.0 574.3 756.4 573.8 758.7 575.0 760.9 576.2 763.6 576.0 765.9 575.9 768.1 575.5 770.3 575.0 772.4 573.8 774.5 572.6 776.7 571.6 773.8 568.7 776.0 567.4 778.6 568.0 780.6 566.4 783.3 567.1 785.5 565.8 788.4 565.4 791.3 564.7 794.2 565.8M712.7 602.2 715.1 604.7 715.6 608.0 717.9 607.9 720.2 608.4 722.2 607.2 724.4 606.5 726.5 607.4 728.8 606.9 730.8 608.4 733.1 608.0 735.1 609.2 737.5 608.3 739.8 607.8 741.8 609.5 744.1 610.8 746.2 612.4 748.9 612.4 750.5 614.5 749.3 611.9 747.6 609.5 745.0 608.3 742.4 607.2 740.4 605.1 737.9 603.8 735.3 602.6 733.1 600.7 732.3 598.6 731.6 596.4 733.5 594.8 736.0 594.9 734.5 592.0 732.7 590.0 730.2 589.1 731.5 586.1 733.1 583.3 734.6 585.3 737.3 585.8 738.9 587.6 741.7 588.8 744.7 589.1 747.5 588.7 748.8 586.5 750.5 584.7 751.9 582.5 754.0 581.2 756.4 580.4 759.3 579.6 762.2 578.9 764.3 577.9 766.5 578.0 768.6 576.8 770.9 577.5 773.7 576.2 776.7 576.0 779.6 578.9 777.9 581.7 776.7 584.7 775.3 586.9 773.8 589.1 772.5 591.4 772.6 594.2 770.9 596.4 772.0 598.8 773.8 600.7 775.3 598.7 778.1 598.4 779.6 596.4 782.5 599.3 781.8 601.9 784.0 603.6M715.6 608.0 713.3 609.6 712.7 612.4 714.3 614.2 716.8 615.1 718.5 616.7 720.4 619.4 721.5 622.5 724.2 624.3 727.3 625.5 729.1 627.0 730.5 629.2 733.1 629.8 736.0 628.4 738.9 631.3 737.1 629.4 736.0 626.9 735.0 624.1 734.5 621.1 734.5 616.7 737.5 617.5 740.4 616.7 742.7 616.5 744.7 615.3 743.0 613.5 740.4 613.0 738.9 610.9 736.0 612.1 733.1 612.0 730.2 610.9 727.4 609.7 724.4 609.5M740.4 588.4 743.0 588.4 745.1 586.6 747.6 586.2 750.5 587.6M733.1 599.3 735.4 599.9 737.3 597.9 739.6 598.1 741.8 597.8 744.7 600.7M736.0 605.1 738.2 606.7 740.8 606.2 743.1 607.6 745.5 607.9 748.3 606.8 750.5 608.0 752.8 608.7 754.5 610.1 756.6 611.1 757.9 613.2 760.3 613.7 761.6 615.8 763.6 616.7M762.2 589.1 765.1 590.5M754.9 602.2 756.4 603.6M770.9 597.8 773.1 596.8 775.3 595.4 777.8 595.7 779.9 594.4 782.5 594.9M770.9 608.0 773.1 607.8 775.4 608.0 777.5 607.5 779.6 606.5 782.5 607.4 785.5 608.0M772.4 616.7 774.6 615.3 777.0 615.7 779.2 614.7 781.7 615.4 784.0 615.3M752.0 615.3 753.6 617.2 753.5 619.6M752.0 625.5 754.9 626.2M762.2 621.1 765.1 621.6 768.0 621.8 766.8 623.8 765.1 625.5M775.3 626.9 776.7 628.4M792.7 631.3 794.7 629.6 797.1 628.4 798.5 629.8 796.9 631.6 796.2 634.1 794.2 635.6 792.4 633.8 792.7 631.3M785.5 635.6 785.2 638.2 786.9 640.0M742.5 638.5 745.1 638.1 747.6 638.5 749.9 639.9 752.1 641.1 754.9 640.7 757.8 641.5 760.8 640.6 763.6 641.5 766.0 640.3 768.3 642.1 770.7 641.1 773.0 641.7 775.3 642.2 775.3 644.4 772.9 644.7 770.5 645.8 768.0 645.1 765.4 645.4 762.8 645.8 760.3 644.9 757.8 644.4 755.4 644.0 752.9 643.8 750.5 642.9 747.9 643.3 745.6 642.6 743.3 641.5 742.5 638.5M731.6 584.7 733.7 586.5 734.5 589.1M741.8 600.7 744.9 600.6 747.6 602.2M744.7 605.1 747.0 606.0 748.2 608.5 750.5 609.5M768.0 583.3 770.2 583.6 772.2 584.9 774.7 583.6 776.7 584.7M525.6 380.0 526.0 382.5 527.2 384.6 529.2 385.7 531.1 386.8 533.3 387.6 535.3 388.5 537.6 389.0 539.6 390.0 541.7 390.4 544.0 390.0 546.2 390.0 548.4 389.8 550.6 390.2 552.8 390.5 555.0 390.8 557.1 389.6 559.5 389.2 561.4 387.7 563.6 387.1 565.8 386.2 567.8 385.1 569.9 384.6 572.1 384.1 574.2 383.4 576.0 382.0 578.2 381.5 581.3 380.0M593.6 380.0 594.7 383.0 595.2 386.2 597.5 388.5 599.8 390.8 600.5 393.0 602.4 394.5 603.3 396.6 604.5 398.5 605.8 400.6 607.2 402.7 609.1 404.4 610.6 406.3 612.8 408.1 615.3 409.4 613.6 411.6 612.2 414.0 613.3 416.4 615.5 417.9 616.8 420.2 619.4 420.8 622.0 420.8 624.6 421.0 627.6 420.5 630.7 420.2 631.0 417.0 632.3 414.0 634.8 413.0 637.4 413.0 640.0 412.5M568.9 438.7 567.8 436.6 566.1 434.8 565.1 432.6 563.8 430.6 562.5 428.7 562.0 426.4 560.4 424.6 559.4 422.5 558.9 420.2 558.3 417.7 558.9 415.2 559.1 412.7 558.9 410.3 558.1 407.8 560.6 405.7 562.7 403.2 565.3 402.8 568.0 402.5 570.5 401.6 573.3 401.2 575.8 400.1 578.2 398.5 580.9 397.6 583.3 395.8 585.9 394.7 585.3 397.5 584.5 400.3 584.4 403.2 582.4 404.8 581.5 407.2 579.6 408.9 578.2 410.9 577.8 413.5 577.6 416.1 576.6 418.6 576.8 421.3 577.3 423.9 578.2 426.4 581.2 427.5 584.4 427.9 587.5 427.7 590.6 427.9 590.3 430.2 590.6 432.6 588.2 433.3 586.1 434.5 584.1 435.9 582.0 437.2 579.9 438.5 578.2 440.3M575.1 417.1 577.6 417.2 580.0 417.1 582.5 417.4 585.0 417.6 587.5 417.1 589.2 418.7 591.6 419.2 593.6 420.2 593.1 422.5 593.6 424.8 591.0 425.1 588.4 425.3 585.9 426.4 583.3 426.0 580.9 424.9 578.2 424.8 577.6 422.1 576.1 419.7 575.1 417.1M592.1 415.5 594.9 415.5 597.5 414.6 600.2 414.0 602.9 414.0 605.1 414.8 607.2 415.7 609.1 417.1 608.5 420.2 607.6 423.3 605.3 424.0 603.3 425.0 601.4 426.4 598.9 425.0 596.2 424.3 593.6 423.3 593.5 420.6 593.1 418.0 592.1 415.5M568.9 404.7 572.0 407.8M590.6 400.1 593.6 399.3M568.9 438.7 566.3 438.8 563.7 438.7 561.2 439.5 558.7 439.7 556.6 441.1 553.9 440.5 551.1 440.6 548.4 439.9 545.7 439.5 544.2 442.6 541.9 442.0 539.6 442.2 537.2 441.9 534.9 441.8 532.2 441.6 529.5 441.7 526.8 442.7 524.1 442.6 522.1 443.5 520.2 444.7 517.9 444.9 516.4 448.0 518.5 449.6 519.4 452.1 521.0 454.2 518.7 455.8 516.4 457.3 513.8 458.2 511.2 459.4 508.6 460.4 506.1 461.6 503.6 462.8 500.9 463.5 498.9 464.7 496.5 465.1 494.3 466.0 492.3 467.3 490.1 468.1 487.6 469.1 485.0 469.6 482.4 469.6 480.0 472.0 477.7 474.3 477.0 477.4 476.2 480.5 473.1 480.3 470.0 480.5M578.2 440.3 580.4 439.8 582.2 438.5 584.4 438.0 586.3 436.7 588.5 436.5 590.6 435.6 592.6 434.8 594.8 434.0 597.1 434.1 599.2 433.2 601.4 432.6 603.5 431.6 605.8 431.6 607.9 430.9 610.2 430.6 612.2 429.5 614.5 429.6 616.8 429.5 619.1 430.0 621.5 429.5 623.4 431.7 625.1 434.0 627.7 435.6 629.7 436.6 631.6 438.0 633.8 438.7 636.9 438.5 640.0 438.7M545.7 443.4 546.5 445.7 547.3 448.0 545.5 450.0 543.5 451.6 541.1 452.6 541.7 455.0 542.6 457.3 540.3 458.0 537.9 458.5 535.7 459.7 533.4 460.4 534.3 463.4 534.9 466.6 534.4 468.9 533.0 470.8 531.8 472.7 533.7 475.0 535.8 477.0 538.0 478.9 537.0 481.0 535.5 482.8 534.9 485.1M490.1 468.1 492.1 469.4 494.3 470.3 496.7 470.6 498.7 471.8 500.9 472.7 503.2 473.5 505.4 474.7 507.8 475.1 510.2 475.8 512.4 476.8 514.7 477.6 517.2 478.1 519.5 478.9 521.9 479.2 524.4 479.7 526.8 480.4 529.3 480.4 531.8 480.5M519.5 478.9 521.1 480.9 522.2 483.3 524.1 485.1 526.6 486.4 528.7 488.2M470.0 448.0 472.6 448.4 475.2 448.4 477.7 448.0 479.5 450.5 481.6 452.6 480.4 454.9 479.3 457.3 476.2 460.4 473.0 460.9 470.0 461.9M470.0 466.6 473.2 466.2 476.2 465.0 474.3 466.7 472.7 468.6 471.8 471.0 470.0 472.7M519.5 444.9 521.4 443.7 523.4 442.4 525.6 441.8 527.0 444.3 528.7 446.5 526.7 448.2 525.8 450.7 524.1 452.6 521.8 453.4 519.5 454.2 518.0 451.8 516.4 449.6M618.4 429.5 621.6 429.7 624.6 431.0 623.0 433.3M559.6 424.8 562.0 425.5 564.3 426.4M562.7 432.6 564.9 434.3 567.4 435.6M598.3 389.3 601.4 392.4M444.6 540.0 443.9 542.4 443.6 544.9 442.7 547.3 442.5 549.8 441.8 552.3 439.1 552.5 436.4 552.8 433.6 553.0 430.9 552.3 428.2 552.2 425.5 551.9 422.7 552.3 420.0 551.7 417.3 551.9 414.6 551.2 411.8 551.6 409.1 551.0 406.4 550.8 403.6 551.1 400.9 550.9 398.1 551.0 395.4 550.3 392.8 549.6 390.0 549.5 387.5 549.2 385.0 549.7 382.5 550.3 380.0 550.2 377.5 549.8 375.0 550.2 372.2 549.4 369.5 548.2 367.2 548.5 365.1 549.4 362.7 549.5 360.2 551.5 357.3 553.0 354.7 554.3 351.9 554.8 349.1 555.0 348.4 557.7 351.0 559.5 353.2 561.8 353.2 564.6 353.9 567.3 353.9 569.7 355.3 571.8 355.9 574.1 355.4 576.4 354.2 578.5 353.9 580.9 353.3 583.2 352.8 585.5 351.8 587.7 351.3 590.5 350.5 593.2 349.2 596.2 347.0 598.6 347.5 601.4 347.0 604.1 351.1 604.8 353.9 608.2 354.0 610.5 353.7 612.8 353.2 615.0 352.8 617.3 353.3 619.5 353.2 621.8 355.9 621.5 358.6 622.1 361.4 621.8 364.1 621.7 366.9 621.8 369.5 621.1 372.2 621.8 375.0 621.8 377.6 623.2 380.5 623.6 383.2 624.5 384.9 626.1 385.8 628.3 387.3 630.0 389.1 631.4 390.9 632.8 392.7 634.1M441.8 552.3 443.8 553.5 445.8 554.6 448.0 555.3 450.0 556.4 452.8 556.6 455.4 557.6 458.2 557.7 460.9 558.4 463.7 558.5 466.4 559.1 469.1 559.6 471.9 559.8 474.6 560.5 476.5 561.7 478.6 562.5 481.2 562.3 483.6 563.1 486.1 563.3 488.7 563.3 491.1 564.1 493.6 563.9M392.7 634.1 394.7 632.8 396.6 631.7 398.6 630.4 400.9 630.0 402.9 628.8 405.1 628.1 407.2 627.2 409.1 625.9 411.8 625.6 414.6 625.6 417.2 624.6 420.0 624.5 422.7 624.2 425.5 624.6 428.2 625.1 430.9 624.5 433.8 623.5 436.4 621.8 438.8 620.8 441.2 619.5 443.2 617.7 445.5 616.9 447.9 616.4 450.0 615.0 451.8 612.5 452.7 609.5 455.1 608.2 457.5 606.7 460.0 605.7 462.3 604.1 460.4 601.8 458.4 599.8 456.8 597.3 455.5 593.2 457.5 591.1 459.2 588.7 460.9 586.4 462.8 584.6 464.7 582.9 466.4 580.9 468.6 580.6 470.4 579.1 472.4 578.1 474.6 577.5 477.2 576.6 480.0 576.8 482.2 575.8 484.5 575.3 486.9 575.1 489.2 574.4 491.4 573.6 493.6 572.7 496.4 570.7M353.9 570.0 356.0 569.2 358.3 568.7 360.4 567.7 362.7 567.3 365.2 567.8 367.6 568.3 370.0 568.7 372.6 568.2 375.0 568.6 377.3 568.8 379.5 569.0 381.8 568.6 383.1 570.8 384.5 572.7 382.4 573.7 380.5 574.9 379.1 576.8 377.7 580.9 376.7 583.1 376.2 585.3 376.4 587.7 374.6 589.8 373.1 592.0 372.3 594.5 373.6 598.6 374.4 601.3 375.0 604.1 374.2 606.8 373.6 609.5 372.0 611.4 370.9 613.6 370.0 616.3 369.5 619.1 370.9 620.5M387.3 640.0 388.9 638.3 390.5 636.5 392.7 635.5 395.4 634.6 398.2 634.1 401.0 633.9 403.6 633.1 406.4 632.7M474.6 601.4 478.6 600.0 480.0 602.7 477.3 604.1 474.6 601.4M351.8 560.5 353.4 562.1 354.9 563.8 355.9 565.9M361.4 567.3 364.1 569.3M640.0 434.0 642.2 433.1 644.6 433.1 647.0 433.2 649.2 432.8 651.4 432.0 653.8 431.7 656.0 431.0 658.3 430.2 660.7 430.2 663.0 429.4 665.2 428.4 667.6 428.4 670.0 428.0 672.5 427.3 675.0 427.1 677.4 426.6 680.0 427.0 682.5 428.0 684.7 429.6 687.0 431.0 689.2 431.3 691.5 430.6 693.8 431.2 696.0 431.0 697.8 429.7 699.8 428.6 702.0 428.0 704.0 426.9 705.9 425.8 707.9 424.8 710.0 424.0 712.0 422.6 713.8 421.1 716.0 420.0M716.0 422.0 718.3 422.7 720.8 422.6 723.2 423.5 725.5 424.1 728.0 424.0 730.9 425.2 734.0 426.0 734.4 429.0 734.0 432.0 736.6 432.8 739.4 432.9 742.0 434.0M688.0 432.0 690.3 432.0 692.6 431.9 694.9 431.5 697.2 431.9 699.5 432.2 701.8 432.2 704.1 432.0 706.4 432.0 708.7 432.1 711.0 431.7 713.3 432.3 715.6 432.7 717.9 432.6 720.2 432.8 722.5 432.2 724.8 432.6 727.1 431.8 729.4 431.9 731.7 431.5 734.0 432.0M742.0 434.0 744.5 434.5 747.0 435.2 749.4 435.8 752.0 436.0 754.4 435.7 756.8 435.1 759.1 434.4 761.6 434.1 764.0 434.0 765.8 432.7 768.0 432.0 768.5 428.8 770.0 426.0 772.5 425.0 775.0 424.0 777.5 423.0 780.0 422.0M742.0 434.0 743.3 436.4 743.9 439.0 745.3 441.4 746.0 444.0 747.4 446.9 748.0 450.0 746.0 451.1 743.9 451.8 741.7 452.5 740.0 454.0 740.1 456.8 740.6 459.5 742.0 462.0 742.9 464.5 744.5 466.4 746.1 468.3 748.0 470.0 749.2 471.9 750.0 474.0 748.2 475.6 746.4 477.0 744.0 477.5 741.9 478.6 740.0 480.0 737.8 481.8 736.1 484.1 734.0 486.0 732.7 488.1 731.4 490.3 729.6 492.0 728.0 494.0M742.0 462.0 744.3 462.2 746.5 461.3 748.7 460.4 750.9 459.9 753.2 459.7 755.5 460.0 757.8 459.8 760.0 459.0 762.2 459.2 764.4 458.6 766.7 458.4 768.9 458.3 771.1 459.0 773.3 459.0 775.6 459.5 777.8 459.7 780.0 459.0 782.2 460.2 784.7 460.5 787.1 461.3 789.6 461.2 792.0 462.0 794.3 461.6 796.5 462.1 798.8 462.3 801.0 462.2 803.3 462.2 805.5 462.0 807.7 463.0 810.0 463.0 812.3 463.3 814.6 463.6 816.9 463.8 819.1 463.3 821.4 463.4 823.7 463.0 826.0 463.0 828.3 460.7 830.0 458.0 832.7 457.8 835.0 456.3 837.3 455.2 840.0 455.0 842.2 454.3 844.4 454.6 846.7 454.5 848.9 453.9 851.1 454.5 853.4 454.7 855.6 454.3 857.8 453.7 860.0 454.0M830.0 420.0 830.6 423.1 832.0 426.0 833.4 427.8 835.5 428.9 837.1 430.5 838.4 432.4 840.0 434.0 841.8 435.4 843.9 436.2 845.9 437.2 848.0 438.0 850.2 439.8 852.0 442.0 849.7 443.2 847.1 443.3 844.8 444.4 842.5 445.6 840.0 446.0 839.4 448.7 839.1 451.4 838.0 454.0M640.0 466.0 642.4 466.7 644.5 467.8 646.7 469.0 648.8 470.1 651.0 471.3 653.3 472.1 655.7 472.6 657.8 474.0 660.0 475.0 662.5 475.1 664.9 476.0 667.3 476.6 669.6 477.5 672.0 478.0 674.2 479.3 676.7 479.9 679.0 481.1 681.2 482.2 683.6 483.1 686.0 484.0 688.8 484.3 691.3 485.6 694.0 486.0 696.4 486.2 698.8 485.6 701.2 485.5 703.6 486.3 706.0 486.0 708.4 486.2 710.7 486.5 713.0 487.2 715.3 487.8 717.6 488.0 720.0 488.0 722.3 488.8 724.9 488.5 727.3 488.6 729.6 489.9 732.0 490.0M640.0 490.0 642.3 490.7 644.9 490.4 647.3 490.6 649.7 491.0 652.0 492.0 654.4 492.6 656.8 492.6 659.2 493.3 661.5 494.1 664.0 494.0 666.5 493.6 669.0 493.0 671.2 491.6 673.5 490.4 676.0 490.0 677.5 487.5 680.0 486.0M664.0 494.0 664.4 496.7 665.6 499.3 666.0 502.0 668.3 502.7 670.6 503.1 673.0 502.8 675.3 503.6 677.7 503.4 680.0 504.0 682.3 503.3 684.5 502.4 686.9 502.4 689.3 502.2 691.6 501.8 693.7 500.3 696.0 500.0 698.4 499.7 700.6 499.0 703.0 498.7 705.2 497.9 707.5 497.4 709.8 496.8 712.0 496.0 714.4 496.4 716.8 495.7 719.2 495.4 721.6 495.8 724.0 496.0 726.6 496.7 729.1 497.8 731.7 498.4 734.0 500.0 736.5 500.5 739.1 500.5 741.5 501.6 744.0 502.0 746.2 502.7 748.6 502.7 750.9 502.5 753.1 503.1 755.5 503.1 757.7 503.5 760.0 504.0 762.1 503.0 764.5 503.4 766.7 502.8 768.9 502.1 771.0 501.3 773.3 501.4 775.6 501.3 777.9 501.0 780.0 500.0 782.4 499.4 784.8 499.0 787.1 498.5 789.6 498.5 792.0 498.0 794.4 498.3 796.6 499.1 798.7 500.2 801.0 500.8 803.5 500.6 805.9 500.8 808.0 502.0 809.9 503.6 810.8 505.9 812.0 508.0 813.3 510.0 814.6 512.0 816.0 514.0 818.0 516.0 820.0 518.0M656.0 516.0 658.3 516.9 660.5 518.1 662.8 519.2 664.8 520.8 667.1 521.8 669.3 522.9 672.0 523.0 674.2 524.4 676.5 524.5 678.8 524.4 681.2 523.1 683.4 523.9 685.7 524.6 688.0 524.0 690.3 524.0 692.6 524.0 694.7 523.1 697.0 523.4 699.3 522.9 701.5 522.8 703.7 522.1 706.0 522.0 707.9 520.6 709.8 519.3 711.8 518.1 713.7 516.7 716.0 516.0 717.3 513.8 719.5 512.2 721.1 510.2 722.9 508.4 724.0 506.0 726.3 505.3 728.3 504.1 730.4 503.1 732.3 501.8 734.0 500.0M706.0 522.0 707.7 523.9 709.3 525.8 710.7 527.8 712.0 530.0 714.5 531.5 716.4 533.6 718.0 536.0 720.4 537.1 722.8 538.5 725.5 539.0 728.0 540.0 729.8 541.8 731.7 543.4 733.6 545.0 736.0 546.0 738.1 547.0 740.3 547.0 742.6 546.8 744.7 547.7 746.9 547.7 749.1 548.3 751.3 548.4 753.5 548.9 755.6 549.8 757.8 549.5 760.0 550.0 762.2 549.5 764.5 549.3 766.7 548.8 769.0 548.7 771.1 547.9 773.4 547.8 775.6 547.3 777.9 547.1 780.0 546.0 782.2 546.1 784.5 546.1 786.7 546.3 788.9 547.2 791.2 546.7 793.4 546.9 795.6 547.6 797.7 548.3 800.0 548.0 800.9 546.0 801.9 543.9 803.1 542.1 804.2 540.1 805.4 538.2 806.0 536.0 808.3 534.8 810.0 532.7 811.8 531.0 813.6 529.1 816.0 528.0 816.9 526.0 817.7 523.8 818.6 521.8 820.0 520.0 818.9 517.8 817.6 515.8 816.0 514.0M784.0 498.0 785.5 500.1 787.0 502.1 788.6 504.1 790.2 506.2 792.0 508.0 793.7 509.5 795.6 510.8 797.3 512.3 799.0 513.8 800.0 516.0 800.0 518.6 799.6 521.1 799.2 523.6 798.0 526.0 800.1 526.7 801.8 528.3 803.8 529.3 806.0 529.9 807.9 531.2 810.0 532.0 811.9 530.5 813.7 528.9 816.0 528.0M816.0 528.0 817.9 526.5 819.9 525.2 822.1 524.1 824.0 522.7 826.1 521.5 828.0 520.0 830.3 519.3 832.9 519.5 835.2 518.8 837.7 518.7 840.0 518.0 842.3 517.2 844.8 517.4 847.2 516.6 849.6 516.7 852.0 516.0M640.0 506.0 642.3 506.0 644.6 505.8 646.8 505.1 649.1 504.3 651.4 504.0 653.7 504.5 656.0 504.0 657.3 505.9 658.0 508.0 658.9 510.1 660.0 512.0 658.5 513.9 657.5 516.1 656.0 518.0M640.0 520.0 642.6 520.1 645.2 520.5 647.1 522.8 649.6 523.2 652.0 524.0 650.7 525.9 649.8 527.9 649.4 530.2 648.0 532.0M688.0 524.0 689.5 526.5 690.7 529.0 690.0 532.0 690.6 534.4 691.3 536.7 690.9 539.2 691.6 541.6 692.0 544.0 691.5 546.3 691.7 548.6 691.0 550.8 691.0 553.2 690.8 555.5 690.4 557.7 690.0 560.0M660.0 532.0 662.4 531.5 664.7 531.7 666.8 533.1 669.2 532.8 671.5 533.0 673.7 534.1 676.0 534.0 678.4 533.9 680.8 533.9 683.1 534.1 685.4 534.7 687.7 535.1 690.0 536.0M732.0 540.0 732.3 542.5 733.0 545.0 733.1 547.6 734.0 550.0 733.1 552.2 731.6 554.0 730.1 555.8 729.3 558.1 728.0 560.0M800.0 548.0 799.5 550.2 798.3 552.1 797.5 554.2 796.3 556.1 794.9 558.0 794.0 560.0M893.5 635.7 894.4 633.3 895.5 631.1 897.0 629.1 898.1 626.9 899.8 625.0 902.0 624.5 904.3 624.7 906.5 624.4 908.8 624.3 911.0 625.0 913.6 624.1 916.3 623.8 919.0 623.6 921.4 624.8 923.9 625.4 926.5 626.0 929.0 625.5 931.6 625.3 934.2 625.7 936.7 625.5 939.0 625.2 941.3 625.2 943.6 625.1 945.9 624.7 948.0 623.6 950.3 623.3 952.7 623.6 955.0 623.1 957.3 622.5 959.6 622.4 962.0 621.1 964.8 620.9 967.3 619.8 969.8 618.9 972.4 618.5 975.0 618.1 977.5 618.3 980.0 619.0M113.0 606.0 115.6 606.5 118.2 606.2 120.8 606.3 123.4 605.7 126.0 606.0M131.0 604.0 133.5 603.9 136.0 604.0M149.0 613.0 151.5 613.1 154.0 613.1 156.5 613.7 159.0 614.0M157.0 622.0 159.0 622.0M252.0 669.0 254.2 668.8 256.5 668.5 258.8 669.3 261.0 669.0M740.0 158.0 742.6 157.7 745.1 156.5 747.6 155.4 750.4 156.5 753.0 156.6 755.2 156.0 757.2 154.3 759.5 154.5 762.0 155.1 764.2 154.6 766.2 153.3 768.5 153.1 770.8 153.1 773.0 152.5 775.7 152.7 778.1 151.1 780.9 152.0 783.6 152.6 786.0 150.8 788.3 152.1 790.7 152.4 793.0 151.2 795.3 152.1 797.7 150.5 800.0 150.8M740.0 171.0 742.8 171.3 745.0 172.9 747.1 175.0 750.0 175.0 752.7 174.3 755.3 173.9 758.0 175.0 755.6 177.1 752.8 176.6 750.0 176.0 747.9 178.1 745.4 179.0 742.5 178.2 740.0 179.0M776.0 163.0 778.8 163.6 781.5 165.0 784.5 164.0M797.0 161.5 800.0 162.0M759.0 189.5 761.6 188.1 764.5 187.5 767.0 186.0M740.0 252.0 742.1 249.8 745.2 251.2 747.3 249.2 750.0 249.0 752.5 248.5 755.0 248.6 757.6 249.9 760.0 248.9 762.6 250.0 765.0 248.0 767.5 249.5 770.4 248.3 773.0 249.0 775.3 249.9 777.6 248.5 779.9 250.4 782.2 249.5 784.5 249.0 786.6 248.1 789.1 249.6 791.1 248.1 793.3 247.5 795.5 246.9 797.8 247.5 800.0 247.0M740.0 259.0 742.0 256.7 744.6 256.2 747.0 254.9 750.0 255.5 752.4 256.7 755.5 255.9 757.6 257.8 760.0 259.0 761.5 256.9 763.7 255.7 766.0 254.8 768.4 253.9 770.0 252.0 772.8 250.4 776.0 250.5M773.0 259.0 775.4 257.8 777.8 256.8 780.6 258.8 782.9 256.9 785.3 255.8 788.0 257.0 790.4 256.4 792.8 257.0 795.2 258.2 797.6 256.1 800.0 257.0M740.0 273.6 742.5 272.2 745.0 271.1 748.0 272.0 750.5 272.2 752.9 272.9 755.3 273.4 757.3 275.4 760.0 275.0 763.0 274.9 765.9 274.5 768.0 272.0 770.8 270.7 769.7 267.9 771.7 266.3 771.0 263.7 773.1 262.3 774.6 260.4 776.7 258.9 779.2 260.6 781.2 258.7 783.3 257.4 785.6 257.5 788.0 258.8 790.4 257.4 792.8 259.7 795.2 260.4 797.6 259.3 800.0 258.8M742.5 290.0 744.3 291.7 745.4 294.2 748.0 295.0 745.0 298.0 745.0 300.5 746.6 302.4 748.9 303.8 751.5 304.3 754.1 304.6 756.5 305.7 758.8 306.8 760.6 308.5 762.6 310.0 764.7 311.4 765.5 315.5 763.3 314.9 761.1 314.5 758.8 314.1 756.5 314.7 754.3 316.4 752.4 318.4 750.0 319.7 747.9 320.8 745.9 322.1 744.1 323.7 742.0 324.7 740.0 326.0M740.0 370.8 742.1 370.1 744.2 369.5 746.4 369.1 748.6 368.8 750.9 368.6 753.0 368.0 755.3 367.3 757.8 367.5 760.2 367.2 762.5 366.8 765.0 366.6 767.4 366.5 769.7 365.8 772.1 364.8 774.6 364.4 777.2 364.0 779.6 363.3 782.4 363.3 785.1 363.1 787.8 362.5 790.2 362.0 792.7 362.3 795.2 362.1 797.6 361.2 800.0 361.0M740.0 374.0 742.3 373.7 744.8 374.0 747.1 373.2 749.4 372.9 751.8 373.3 754.2 373.3 756.5 372.4 758.9 372.6 761.2 373.1 763.6 373.0 765.9 373.5 768.3 373.9 770.7 373.5 773.0 374.0 775.3 373.4 777.6 373.0 780.0 372.8 782.3 372.4 784.6 372.1 787.0 372.2 789.4 372.4 792.2 372.7 795.0 372.9 797.7 374.0M800.0 552.0 798.1 553.6 796.0 554.9 794.3 556.7 792.7 558.6 791.2 560.4 789.4 562.0 790.8 563.9 792.7 565.2 794.4 566.8M773.0 568.5 775.0 567.3 777.3 567.3 779.2 565.9 781.6 566.7 783.7 565.5 786.0 566.0 788.9 565.6 791.5 567.3 794.4 566.8M740.0 573.0 742.5 573.5 745.1 573.8 747.5 573.4 750.0 572.4 752.3 573.6 754.7 574.3 757.0 575.5 759.8 574.5 762.1 575.7 764.7 575.7 767.4 575.3 770.2 574.6 773.0 575.0 774.6 571.6 777.4 570.3 779.6 568.3 782.4 568.2 785.3 568.2 787.8 566.6 789.8 568.3 792.1 568.0 794.4 567.5 796.5 568.9 799.0 569.8 800.0 572.4M740.0 586.4 742.0 585.2 744.3 584.4 745.9 582.5 748.0 581.5 749.7 579.6 751.6 578.2 753.8 577.4 756.5 578.0 758.9 577.8 761.2 576.7 763.6 576.8 765.9 576.9 768.3 578.0 770.6 579.2 773.0 578.0 775.9 578.6 778.8 579.2 781.0 581.5 783.9 581.4 786.9 581.7 789.4 579.8 792.0 579.1 794.6 578.4 797.3 578.3 800.0 578.0M800.0 583.0 797.8 583.4 795.5 583.4 793.2 583.2 791.0 583.0 788.8 584.0 786.7 585.1 784.4 585.7 782.1 586.0 779.6 584.8 778.0 587.8 774.6 588.0 774.5 590.3 773.3 592.4 773.0 594.7 775.7 596.0 778.0 598.0 780.0 599.0 782.1 599.8 784.5 599.6 784.5 602.1 784.5 604.6 785.6 606.7 787.4 608.5 787.8 611.0 787.1 613.2 787.3 615.5 787.8 617.7 789.4 619.9 789.4 622.7 792.1 622.7 793.8 624.8 796.0 626.0M740.0 675.4 742.5 675.7 745.0 676.4 747.5 676.4 750.0 677.0 752.4 678.1 754.8 679.1 757.4 679.3 759.8 680.4 762.0 680.6 764.2 680.6 766.4 681.3 768.6 681.8 770.7 682.2 773.0 682.0 775.5 682.3 778.1 682.4 780.5 683.2 783.0 683.7 785.1 684.4 787.4 684.6 789.5 685.1 791.5 686.0 793.8 686.3 795.8 687.3 798.0 687.7 800.0 688.6M759.8 680.4 761.4 683.7 760.5 685.9 759.3 688.0 758.0 690.0 759.0 692.5 759.8 695.0 756.5 697.0"/><path d="M516.9 348.8 518.6 347.6 520.4 346.8 522.7 346.7 524.0 345.0 525.5 343.6 527.5 343.2 529.5 342.7 531.1 341.0 533.2 340.8 535.3 340.6 537.4 340.7 538.8 338.5 541.0 338.5 542.6 336.6 544.2 334.9 547.0 335.3 549.2 334.6 550.4 332.1 553.4 332.6 554.9 330.7 557.2 332.1 559.1 331.3 561.1 330.7 562.9 329.0 564.8 327.7 567.0 329.0 569.0 327.9 571.0 326.6 573.1 326.1 575.6 327.2 576.4 324.6 577.8 322.7 580.2 322.0 582.6 321.2 584.0 319.6 586.4 319.7 587.9 318.4 589.8 317.5 591.2 316.0 593.1 314.8 595.0 313.6 596.4 311.9 597.7 310.0 599.8 309.0 602.2 308.5 604.5 307.8 606.1 306.3 607.6 304.7 608.5 302.2 610.3 301.3 611.6 299.5 613.2 298.3 614.5 296.7 617.1 297.0 618.8 295.7 620.4 294.2 622.8 293.8 624.0 291.8 625.8 290.9 628.1 290.9 630.0 290.2 630.6 287.2 632.1 285.8 634.4 285.8 636.5 285.3 638.0 283.8 640.3 283.8 641.3 281.5 643.8 280.7 645.4 278.2 648.2 278.0 650.3 276.8 652.8 276.5 654.5 274.5 656.8 273.7 657.8 271.4 659.7 270.4 662.5 270.7 664.4 269.7 665.5 267.6 667.2 266.1 669.0 264.8 670.7 263.3 672.5 261.9 675.3 262.6 676.9 260.9 679.3 260.7 681.2 260.0 683.2 259.5 685.0 258.3 687.2 259.0 688.9 257.4 691.1 257.8 693.1 257.3 695.3 255.9 697.6 256.0 700.0 256.4 701.8 254.9 703.8 254.4 706.2 255.9 708.3 255.8 710.0 254.2 712.2 254.8 713.9 253.0 715.9 252.4 718.2 253.2 720.0 252.0 722.0 252.8 724.0 251.2 726.0 253.0 728.0 251.7 730.0 251.2 732.0 252.4 734.0 251.7 736.0 251.3 738.0 250.5 740.0 252.0M525.5 350.5 527.4 349.0 529.7 349.1 531.6 348.1 533.9 348.2 536.0 347.3 538.1 346.8 540.5 347.5 542.5 346.4 544.5 345.4 546.5 345.2 548.6 345.2 550.2 343.4 551.9 342.2 554.3 343.0 556.3 342.9 557.9 341.2 559.6 340.0 561.8 340.2 563.8 339.6 566.1 339.7 567.5 337.7 569.9 338.0 571.9 337.6 573.7 336.4 575.3 335.0 576.9 333.3 579.1 333.3 580.5 331.1 583.1 332.2 584.7 330.6 586.9 330.5 588.5 329.0 590.8 329.2 592.7 328.4 594.4 326.9 596.4 326.4 597.2 324.3 599.4 323.5 600.1 321.3 601.5 319.7 603.5 318.7 605.7 318.0 606.7 316.0 608.6 314.9 609.5 312.8 611.8 312.2 612.4 309.8 613.2 307.7 614.8 306.3 617.1 305.6 618.4 303.7 619.7 301.7 621.4 300.2 623.4 299.1 625.6 298.2 627.5 297.0 629.1 295.1 631.3 294.2 633.9 294.4 636.4 294.1 637.8 291.8 640.1 292.0 642.1 291.2 643.9 290.1 645.5 288.3 647.2 286.8 649.0 285.7 651.6 286.6 653.8 285.7 656.0 285.1 658.4 284.8 659.7 282.0 662.0 281.5 664.0 280.8 665.9 280.0 668.1 279.8 669.8 278.4 672.3 278.8 673.6 276.6 675.8 276.3 677.8 275.7 680.0 275.7 682.2 275.9 684.1 275.3 686.1 274.6 688.2 274.3 690.3 274.1 692.0 272.4 694.1 272.1 696.3 272.2 698.3 271.9 700.0 270.0 702.2 269.6 704.3 269.2 706.5 268.8 708.3 267.5 710.2 266.6 712.0 265.2 714.1 264.6 716.1 263.9 717.7 262.0 720.0 262.0 722.0 261.7 724.2 262.5 726.2 262.5 728.2 262.0 730.0 260.8 732.1 260.9 734.1 260.4 736.0 259.7 738.1 260.1 740.0 259.0M613.6 283.2 615.3 281.6 617.6 282.1 619.2 280.3 621.5 280.5 623.5 280.0 625.3 278.8 627.5 278.9 629.5 278.4 631.5 277.7 633.5 277.3 635.7 277.5 637.3 275.7 639.0 274.0 641.3 274.5 642.9 272.6 645.3 272.5 647.0 270.8 648.9 269.5 651.6 269.9 653.4 268.5 655.6 268.1 657.3 266.8 659.6 266.7 661.1 264.9 663.2 264.3 665.0 263.0M647.1 278.6 648.3 280.3M615.8 297.8 615.2 299.3M630.8 287.9 631.3 289.1M661.0 270.7 661.9 275.7M642.4 281.0 645.2 284.7M631.4 287.5 636.5 293.3M675.4 262.7 675.1 266.7M713.5 253.4 715.3 261.9M596.4 311.8 599.6 314.3M638.7 283.1 641.4 287.6M679.6 260.6 679.7 264.3M735.0 252.0 736.7 259.1M525.3 343.7 525.8 344.4M609.3 301.7 611.3 305.9M633.7 286.2 632.6 287.2M662.7 269.6 665.4 275.7M599.1 309.6 601.6 313.4M593.4 314.2 600.6 320.0M533.5 341.0 536.6 342.0M651.6 276.3 653.2 283.1M609.2 301.8 612.2 303.9M598.3 310.2 605.0 315.2M589.8 316.9 595.6 321.6M720.3 252.0 720.3 256.7M538.9 339.2 545.0 343.9M535.6 340.3 540.9 343.4M664.6 268.3 667.1 272.3M533.9 340.8 537.2 342.3M535.2 340.4 539.5 342.3M666.4 267.2 666.4 271.1M596.1 312.0 601.0 317.6M543.5 337.1 550.3 341.5M719.8 252.1 722.5 261.3M612.1 300.0 615.2 304.9M588.1 317.9 593.8 321.7M714.0 253.3 713.9 256.7M597.6 310.8 600.2 313.9M601.9 307.3 603.9 309.3M690.2 258.0 693.7 266.0M638.2 283.4 640.1 285.2M517.0 349.6 519.1 350.4 521.1 349.6 523.2 349.2 525.3 350.0 527.3 349.3 529.4 349.7 531.5 349.8 533.5 349.8 535.6 350.2 537.7 350.2 539.7 348.9 541.8 349.0M520.2 345.8 522.4 345.5 524.6 344.9 526.8 344.5 529.0 343.9 530.9 343.1 532.7 342.2 534.8 342.3 536.7 341.4 538.9 340.5 540.7 338.9 543.0 338.2 545.4 337.0 548.0 336.4 550.7 336.3 552.8 335.3 554.9 335.7 557.1 335.1 559.2 334.7 561.3 334.4 563.5 335.6M517.6 357.3 519.6 356.5 521.8 357.1 523.8 356.3 525.9 356.4 528.0 357.0 530.1 356.7 532.1 355.9 534.3 356.8 536.4 357.1 538.4 355.7 540.5 356.0 544.4 355.4 546.3 354.2 548.5 353.9 550.7 353.5M522.7 363.0 525.2 362.9 527.5 361.8 530.0 361.5 532.3 360.5 534.6 360.8 536.7 361.8 539.0 361.9 541.3 362.2 543.3 363.4 545.6 363.6M520.8 368.7 522.9 368.8 525.0 368.6 526.9 367.8 528.8 366.9 530.8 366.7 532.8 366.2 534.9 366.1 536.7 364.9 538.9 365.5 540.8 364.0 542.9 363.6 545.0 363.6M521.5 374.5 523.6 374.5 525.6 373.5 527.6 372.8 529.6 372.0 531.8 372.5 534.0 373.2 536.1 373.3 538.0 371.9M521.5 379.0 523.6 378.4 525.6 379.2 527.7 379.1 529.7 379.5 531.8 379.3 533.8 380.2 535.9 380.7 538.0 379.6M526.0 382.7 528.2 381.4 530.8 381.8 533.0 380.6 535.5 380.8M517.0 349.0 518.3 350.8 518.7 352.8 518.4 355.0 519.0 357.0 517.6 358.8 518.3 361.1 517.9 363.1 517.0 365.0 519.0 366.9 519.4 369.5 520.0 372.0 520.7 373.9 521.3 375.9 522.0 377.9 522.0 380.0 523.4 382.2 524.8 384.5 527.0 386.0 529.2 386.6 531.4 387.1 533.5 388.1 535.5 389.2 537.5 390.4 540.0 390.0M525.0 343.0 527.1 342.5 529.2 342.7 531.3 342.4 533.4 342.5 535.4 341.3 537.4 340.6 539.5 340.1 541.8 341.1 543.8 340.2 545.9 340.1 548.0 340.0M518.0 352.0 520.1 351.3 522.2 351.4 524.4 350.9 526.5 351.6 528.6 351.2 530.8 351.9 532.9 351.5 535.0 352.0M521.0 366.0 523.2 365.7 525.4 366.1 527.6 366.2 529.9 366.2 532.0 367.0M523.0 377.0 524.8 375.8 526.8 375.1 529.0 376.0 530.9 375.1 533.0 375.0M115.0 236.0 117.3 235.1 119.4 235.2 121.4 236.3 123.1 238.5 125.5 237.3 127.4 238.9 129.5 238.7 131.7 238.6 133.6 239.9 135.8 239.4 138.1 238.4 140.0 240.0 142.0 239.8 144.0 240.7 146.0 241.1 148.0 240.4 149.9 242.1 151.8 242.8 153.8 243.6 155.9 242.4 157.9 243.2 159.9 243.3 162.0 241.8 164.2 240.8 166.2 240.9 168.2 240.9 170.0 243.0M118.0 250.0 120.0 248.7 122.0 249.0 124.0 250.3 126.0 249.6 128.0 249.8 130.0 248.5 132.0 248.4 134.0 250.7 136.0 248.8 138.0 249.6 140.0 250.7 142.0 251.2 144.0 251.2 146.0 250.3 148.0 251.0 150.0 250.0 152.1 251.3 154.1 251.2 156.2 251.7 158.0 249.2 160.1 250.5 162.0 249.4 164.1 249.7 166.0 248.4 168.1 249.8 169.9 247.6 172.0 248.2 173.9 247.4 175.9 247.4 178.0 248.0M130.0 256.0 132.0 255.5 134.0 256.0 136.1 256.7 138.0 255.5 140.0 255.8 142.0 255.0 143.9 254.3 146.1 255.8 148.0 254.7 149.9 253.4 151.9 253.5 154.0 254.6 155.9 253.5 158.0 254.5 160.0 254.0 162.0 254.4 164.0 254.9 166.0 253.7 168.1 253.1 170.1 252.9 172.1 253.6 174.1 254.2 176.1 253.3 178.1 254.4 180.0 254.7 182.1 254.6 184.0 255.3 185.9 257.0 188.0 255.5 190.0 256.0M150.0 219.0 151.9 220.4 154.2 219.5 156.2 220.5 158.4 219.2 160.3 221.3 162.5 220.8 164.4 222.3 166.7 220.8 168.8 220.9 170.8 222.0 173.0 221.0 175.0 222.0 177.3 221.4 179.2 222.9 181.0 224.6 183.4 223.7 185.7 223.1 187.8 223.6 189.5 225.9 191.9 224.6 193.9 225.7 196.0 226.0M165.0 214.0 167.1 213.8 169.1 214.6 171.3 213.8 173.3 214.7 175.3 216.0 177.4 216.6 179.5 216.3 181.6 215.8 183.7 215.9 185.9 214.7 187.9 216.4 190.0 216.0 191.9 217.4 194.2 217.4 196.3 218.3 198.6 218.3 200.8 218.5 203.1 218.5 205.0 220.0M190.0 198.0 192.1 198.5 194.1 198.7 196.2 198.7 198.4 197.4 200.4 198.6 202.5 198.7 204.6 199.3 206.6 199.7 208.6 201.0 210.9 199.3 212.9 199.6 215.0 200.0 216.7 201.7 218.7 202.1 221.0 201.2 222.9 202.3 224.6 203.8 226.9 202.9 228.7 204.1 231.1 202.7 232.8 204.8 235.0 204.0M185.0 186.0 187.1 186.2 189.3 185.7 191.2 187.4 193.2 187.7 195.2 188.9 197.3 189.2 199.4 189.4 201.6 188.8 203.5 190.1 205.9 188.0 207.8 189.6 210.0 189.0 211.8 190.3 214.0 189.3 215.9 190.7 218.0 190.4 220.0 190.7 221.8 192.0 224.1 190.7 226.1 190.6 228.0 191.8 230.0 192.0M195.0 174.0 197.2 172.9 199.2 173.9 201.2 175.2 203.3 174.9 205.5 174.2 207.5 175.6 209.5 176.5 211.6 176.7 213.7 176.3 215.7 177.2 217.8 177.4 220.0 176.0 222.1 176.1 224.1 176.3 226.3 175.8 228.4 175.6 230.3 176.6 231.9 178.9 233.8 180.0 236.1 178.6 238.2 178.4 240.0 180.0M200.0 160.0 202.1 159.9 204.1 161.4 206.2 161.5 208.1 162.5 210.5 160.7 212.4 162.7 214.6 161.4 216.6 162.2 218.6 163.5 220.7 163.7 223.0 162.4 225.0 163.0 226.9 163.6 229.0 163.5 231.2 162.4 233.2 163.1 235.2 163.4 237.0 164.7 239.1 164.4 241.0 165.4 242.9 166.3 245.0 166.0M110.0 253.0 112.1 252.2 114.1 251.7 116.0 253.3 118.0 253.4 120.1 252.5 122.1 252.1 124.0 254.5 126.0 254.6 128.0 254.0 130.1 253.4 131.9 255.5 133.9 255.6 135.9 255.9 138.0 255.0 140.0 255.0M160.0 232.0 162.1 231.7 164.2 231.9 166.3 231.4 168.3 232.8 170.3 232.9 172.3 234.2 174.4 233.7 176.5 233.8 178.5 234.1 180.4 235.7 182.6 234.7 184.6 235.5 186.8 234.6 188.8 235.3 191.0 234.9 192.8 236.6 195.0 236.0M175.0 206.0 177.1 205.5 179.1 207.1 181.2 207.4 183.3 206.9 185.3 208.2 187.5 207.3 189.5 208.0 191.6 208.0 193.7 207.7 195.9 206.4 198.0 207.0 200.0 208.0 202.2 207.2 204.2 207.7 206.2 209.6 208.3 208.5 210.4 209.4 212.4 209.7 214.6 208.7 216.7 208.9 218.9 208.2 220.8 210.3 223.0 209.4 225.0 210.0M590.0 160.0 592.2 159.4 594.2 159.8 596.0 161.2 598.2 160.3 600.2 160.2 602.0 162.2 603.9 162.9 605.9 163.0 608.1 162.2 610.2 162.0 612.2 162.6 613.9 164.7 615.9 164.8 617.8 166.0 620.0 165.0 622.0 165.0 624.0 165.0 626.0 165.4 627.9 166.4 630.0 165.1 632.0 166.5 634.0 166.2 636.1 165.0 638.0 165.5 640.0 165.7 642.0 166.6 643.9 167.8 646.0 167.3 648.0 167.6 650.0 167.0M600.0 170.0 602.0 169.8 604.0 170.8 606.0 169.5 608.0 170.7 610.0 169.8 612.0 170.5 614.0 169.9 616.0 170.0 618.1 169.7 620.0 170.1 622.0 170.9 624.0 171.2 626.0 171.0 628.0 171.5 630.0 172.4 632.0 171.6 634.0 171.9 636.0 171.9 637.9 173.2 640.0 172.0 642.1 172.5 644.1 173.2 646.3 172.6 648.5 172.5 650.4 173.9 652.5 174.3 654.7 173.8 656.9 173.3 658.7 175.2 660.9 175.1 662.8 176.1 665.0 176.0M630.0 158.0 632.0 158.0 634.0 158.6 636.0 158.9 637.9 160.1 639.8 160.7 641.9 159.8 644.0 159.7 646.1 159.0 648.0 160.2 650.1 159.1 652.1 159.3 653.9 160.9 656.1 159.6 658.0 160.9 660.0 161.2 662.0 161.4 664.0 161.1 666.1 160.6 667.9 162.5 670.0 162.0M700.0 155.0 701.9 155.9 703.9 156.6 706.1 155.2 707.9 156.5 710.1 155.7 712.1 155.5 714.0 156.4 716.0 157.1 718.1 156.3 720.0 157.8 722.0 158.1 723.9 159.2 725.8 159.9 727.8 159.7 730.0 158.9 731.8 160.3 733.9 160.4 736.0 159.5 737.9 160.7 740.0 160.0M720.0 165.0 721.9 165.8 724.0 165.2 726.1 164.9 728.2 164.4 730.1 165.6 732.1 165.6 734.1 165.8 736.1 165.9 738.2 165.8 740.1 166.8 742.1 166.9 744.1 167.0 746.1 167.2 748.1 168.1 749.9 169.5 752.1 168.5 753.9 169.9 755.8 170.7 757.9 170.6 760.0 170.0 762.0 170.6 763.9 171.1 766.0 170.9 768.0 171.2 769.9 172.0 771.9 172.1 774.0 170.9 776.1 169.9 778.0 171.8 780.0 171.3 782.0 172.2 784.0 171.2 786.0 171.4 788.0 171.4 790.0 172.0"/><path stroke-width="2.2" d="M561.1 331.5 569.3 333.4M708.7 258.2 713.6 257.6M547.6 338.4 555.6 337.5M672.1 276.6 675.1 273.9M614.1 302.0 617.5 297.6M650.5 282.5 656.7 277.4M734.2 255.9 737.0 254.3M705.5 254.8 711.9 255.0M591.6 326.4 593.2 323.0M613.6 298.4 617.9 297.6M546.3 335.6 551.6 333.6M650.6 281.2 659.3 280.3M663.4 271.4 666.8 269.2M521.0 349.0 524.9 347.9M578.6 327.5 584.1 324.9M648.7 285.3 655.2 281.0M713.4 252.3 720.3 254.7M545.9 339.8 553.8 336.8M599.4 313.5 607.0 311.8M724.4 255.4 728.5 256.1M672.0 274.0 679.0 271.9M568.1 332.5 576.2 336.0M632.0 293.9 638.2 288.1M703.2 261.0 707.4 257.3M636.5 290.3 639.2 288.6M691.3 257.7 695.3 258.4M596.3 322.7 598.2 319.3M627.0 293.3 634.1 292.5M725.3 255.0 728.4 256.9M568.0 333.2 574.7 330.1M653.3 279.0 659.7 278.4M585.6 322.0 594.0 320.9M567.9 333.1 573.5 335.6M638.3 284.8 643.7 282.0M644.5 278.3 650.6 278.9M606.4 311.9 611.3 308.6M663.5 269.4 668.4 266.9M727.0 259.9 732.6 258.3M544.9 339.0 553.2 337.9M619.3 299.1 622.9 293.5M720.0 252.7 723.1 253.5M560.1 331.1 565.0 331.6M598.2 319.9 601.2 313.1M547.3 340.8 550.2 337.8M630.5 291.6 634.7 288.2M629.4 291.2 633.7 285.9M653.1 279.1 659.8 278.5M701.4 257.5 709.2 258.1M712.4 257.5 720.2 254.0M572.2 333.9 575.8 335.0M575.3 332.3 578.4 330.4M698.1 261.0 701.8 261.7M607.9 311.2 609.3 307.2M665.2 277.4 668.9 277.4M625.3 296.2 631.3 292.5M558.8 331.5 561.4 329.6M635.7 288.7 639.1 287.0M555.7 330.7 564.4 332.6M718.3 255.3 725.5 250.4M617.9 302.7 621.9 298.5M628.0 292.2 630.8 291.0M669.1 277.2 672.8 272.8M676.6 268.2 679.4 265.4M623.6 290.1 631.4 289.6M669.3 275.7 674.4 274.0M644.0 282.3 651.8 283.2M578.6 331.4 586.1 329.8M691.7 260.8 699.6 263.3M666.6 275.4 672.0 274.3M670.7 266.5 675.3 263.0M518.8 349.5 525.1 347.0M574.2 333.0 579.2 333.0M658.8 278.1 663.4 275.3M736.3 255.1 743.6 257.0M731.4 251.6 738.7 252.7M577.5 330.4 579.7 326.8M597.8 313.3 602.6 306.3M633.8 287.9 640.2 288.0M737.2 255.5 740.4 256.7M646.0 288.5 650.5 281.2M554.6 337.6 558.7 333.2M646.2 278.0 651.7 278.3M630.5 292.6 634.1 289.6M657.6 279.8 662.6 274.5M582.6 322.0 584.6 319.5M554.8 340.1 561.8 335.5M674.4 260.8 682.9 262.6M538.0 346.2 543.4 343.9M729.1 253.6 737.7 253.9M670.5 268.6 678.4 269.5M396.2 418.0 396.4 413.5M389.2 406.6 389.6 411.5M395.5 412.2 400.8 413.0M385.7 392.5 389.8 396.4M381.2 402.3 383.4 397.6M392.9 412.4 396.2 408.2M384.7 410.2 388.5 408.9M390.2 420.4 394.8 420.3M388.5 412.1 389.5 416.2M389.7 414.4 392.0 419.3M387.9 416.0 388.4 420.9M386.1 407.6 388.6 411.1M391.2 401.5 395.4 405.6M391.3 404.3 393.8 400.9M381.2 407.6 381.8 403.7M381.6 399.3 383.8 402.0M380.8 397.0 386.4 398.5M385.6 395.4 387.5 392.3M382.5 403.0 386.0 404.1M386.4 400.6 389.0 396.1M385.8 401.6 388.1 405.3M382.1 403.2 383.1 407.1M382.4 411.0 386.0 410.8M377.3 400.7 379.7 404.1M387.7 410.4 392.2 406.5M394.7 412.7 394.7 408.3M382.7 404.9 386.4 408.0M386.8 397.6 390.0 395.6M390.5 415.7 395.9 418.2M385.5 404.7 387.8 400.0M377.6 397.8 380.1 402.7M384.6 395.2 387.1 397.3M389.7 404.6 390.3 409.4M394.5 413.7 397.0 417.0M398.2 413.9 400.0 417.0M388.7 411.3 391.2 406.4M389.5 403.9 390.4 400.0M384.5 409.3 389.0 407.1M382.1 398.3 388.0 397.6M391.0 418.9 391.1 414.8M378.7 386.2 382.6 386.4M368.6 393.4 371.3 394.1M377.0 387.1 381.1 386.7M371.3 389.4 376.0 389.0M371.1 388.7 374.4 389.3M383.5 386.2 386.7 386.8M381.4 385.5 383.7 384.8M378.8 388.7 382.3 387.8M381.9 387.5 384.6 386.6M369.8 389.6 372.1 389.4M371.6 401.9 372.5 405.0M370.0 401.7 371.3 404.1M371.4 398.5 373.0 401.5M371.0 402.6 371.2 405.8M531.6 340.9 539.3 339.1M528.7 344.1 537.4 343.3M523.0 379.7 531.0 376.6M526.1 382.5 532.9 381.0M523.4 342.1 530.2 344.1M518.4 374.0 527.5 370.8M531.9 368.6 536.9 366.3M520.4 367.4 529.7 365.1M523.7 357.1 532.8 353.3M520.1 341.8 527.4 341.3M527.7 362.8 537.4 365.0M523.1 379.4 531.3 375.9M517.7 351.2 524.8 349.0M532.4 377.2 536.8 376.9M533.1 340.2 542.4 343.0M528.3 369.4 536.7 369.7M523.7 355.4 527.8 356.0M526.9 348.6 532.8 346.2M531.4 364.3 537.0 363.8M529.3 364.5 533.5 364.6M531.7 369.2 539.1 371.2M525.0 360.0 533.1 360.0M519.5 375.1 529.4 374.0M519.7 380.6 526.2 379.4M517.7 366.7 524.8 366.2M517.7 359.5 521.9 358.5M518.0 372.6 525.6 373.2M530.3 374.3 534.7 374.2M528.4 344.4 534.8 343.8M526.1 339.3 531.5 338.9M527.9 353.4 532.1 352.1M518.0 384.7 527.2 385.0M517.5 359.3 525.5 356.6M517.3 368.3 525.3 364.7M528.2 342.9 532.0 344.0M530.1 350.6 534.4 349.5M521.8 383.7 527.9 382.6M532.4 366.5 540.8 362.2M523.4 351.2 532.9 353.7M528.1 360.7 537.3 358.2M532.3 378.8 538.3 379.8M528.4 358.3 538.2 360.3M522.7 348.1 531.4 345.0M535.7 342.7 541.6 343.2M521.6 383.5 526.4 383.9M586.4 416.8 588.3 418.0M569.6 400.3 571.4 402.1M567.2 398.4 570.6 401.2M574.9 405.2 576.3 408.7M569.9 399.5 571.7 403.1M569.3 405.3 574.2 404.2M578.1 407.3 579.8 408.5M584.3 410.2 588.7 411.0M563.7 397.2 565.5 399.3M569.8 404.3 574.5 403.9M600.6 420.5 603.8 423.3M573.9 408.4 576.0 409.8M581.3 411.1 585.0 412.5M590.8 416.0 594.0 419.2M588.6 413.2 589.2 415.7M593.5 414.4 595.1 416.6M576.8 407.6 579.0 411.4M568.6 402.8 572.3 402.8M582.0 404.8 585.0 407.6M581.6 413.7 584.0 413.9M559.2 397.8 562.4 398.9M568.3 406.2 572.9 405.0M583.4 410.3 584.8 412.7M565.7 400.1 568.5 399.2M584.5 412.4 588.1 413.2M734.7 596.8 737.5 597.0M739.1 595.6 741.8 599.0M737.3 590.2 739.8 591.1M778.0 618.3 781.7 620.3M777.1 620.0 781.0 621.9M738.4 586.7 739.7 588.7M753.4 598.9 755.4 599.8M730.7 596.1 733.6 599.2M746.3 592.8 748.6 594.3M749.5 609.1 752.4 610.1M771.4 625.4 774.6 625.2M765.6 604.4 769.5 605.6M768.4 618.7 770.4 621.5M746.9 605.4 751.0 607.0M744.2 594.2 747.8 594.6M743.3 590.7 746.6 591.2M748.3 596.7 750.2 600.3M773.2 615.9 775.3 616.7M765.4 610.1 767.4 610.6M743.0 591.4 747.5 593.1M767.4 610.1 769.7 610.9M773.3 619.4 776.1 622.5M776.5 615.9 779.6 616.8M733.3 596.9 737.4 598.2M760.9 600.1 763.4 601.1M166.8 306.5 168.9 306.7M174.1 303.8 176.5 304.0M183.8 298.2 187.7 299.1M168.6 305.7 172.6 304.8M176.4 302.1 178.9 303.1M173.5 304.1 175.6 303.5M166.8 309.1 171.2 309.4M191.3 300.3 196.0 301.1M171.4 306.3 176.2 307.1M189.6 299.4 191.9 299.7M176.9 303.1 179.7 301.7M174.7 304.3 177.1 303.8M175.9 303.8 179.7 302.5M170.9 303.6 174.1 303.1M634.2 538.9 636.8 541.5M657.4 554.1 660.1 555.6M630.9 536.4 634.3 537.2M651.7 552.5 654.2 553.8M630.2 533.8 632.4 536.8M637.9 543.5 641.1 544.7M651.5 554.7 654.8 556.5M665.5 563.0 668.5 565.5M643.8 547.2 647.9 549.0M664.7 560.3 666.0 562.0M633.7 538.8 636.5 540.1M668.6 562.7 671.1 563.7M655.6 554.6 659.2 555.4M643.9 546.0 647.2 548.2M649.3 551.3 652.8 554.0M207.9 167.6 215.0 165.6M187.4 246.4 190.9 246.5M154.4 218.8 159.2 218.3M159.8 226.0 167.6 227.1M169.5 251.9 172.8 251.1M158.5 220.9 164.8 220.1M240.0 175.2 243.0 174.6M221.2 177.5 226.8 176.5M151.4 247.8 156.5 246.2M238.7 183.3 244.0 184.9M238.3 163.1 242.0 162.8M200.7 175.1 203.7 175.8M232.3 191.1 239.6 192.6M245.8 203.8 252.6 204.9M131.8 248.8 136.6 247.7M224.5 200.6 227.5 201.4M204.1 188.4 212.0 188.7M186.8 245.6 192.3 244.9M118.3 248.6 124.5 247.5M226.0 152.0 232.8 151.0M188.8 240.9 196.8 240.7M242.3 160.5 247.6 160.7M145.5 247.8 149.2 247.8M243.4 160.2 249.4 159.8M213.8 219.4 216.8 219.2M179.0 231.2 185.5 229.4M204.5 175.7 207.7 175.8M133.6 247.5 139.0 249.1M187.3 245.7 192.1 244.1M131.2 257.2 137.5 257.3M210.0 166.9 216.3 166.8M228.2 164.6 233.7 164.8M129.5 248.7 136.2 247.8M198.0 215.8 204.7 213.8M216.5 176.8 221.8 176.5M122.6 253.3 126.4 253.4M229.3 178.1 233.4 177.8M141.7 248.9 146.3 247.4M188.2 240.5 194.9 240.6M206.3 188.0 209.1 189.0M239.2 162.2 246.9 160.8M200.3 220.7 206.3 219.9M235.4 164.8 238.9 164.1M187.9 246.0 191.2 244.9M216.6 215.0 224.1 216.7M232.7 188.8 237.1 188.5M233.5 202.4 237.6 202.1M203.4 215.6 210.4 214.7M217.5 204.0 224.0 201.9M126.9 253.6 130.4 252.6M205.9 206.8 213.1 204.3M184.9 248.6 192.0 248.8M221.1 158.5 228.9 159.5M128.0 258.3 134.2 256.5M151.2 227.5 156.3 227.3"/>
</g>
<!-- frame -->
<rect x="100.5" y="150.5" width="900" height="549" fill="none" stroke="#000" stroke-width="3"/>
<!-- ticks -->
<g stroke="#000" stroke-width="1">
<path d="M96 150.5H100M96 260.5H100M96 370.5H100M96 480.5H100M96 590.5H100M96 699.5H100"/>
<path d="M100.5 701V705M220.5 701V705M340.5 701V705M460.5 701V705M580.5 701V705M700.5 701V705M820.5 701V705M940.5 701V705"/>
</g>
<g font-size="13.2" fill="#000" text-anchor="end">
<text x="92" y="155">80N</text><text x="92" y="265">70N</text><text x="92" y="375">60N</text>
<text x="92" y="485">50N</text><text x="92" y="595">40N</text><text x="92" y="704">30N</text>
</g>
<g font-size="12.5" fill="#000" text-anchor="middle">
<text x="100" y="717">30W</text><text x="220" y="717">20W</text><text x="340" y="717">10W</text>
<text x="460" y="717">0</text><text x="580" y="717">10E</text><text x="700" y="717">20E</text>
<text x="820" y="717">30E</text><text x="940" y="717">40E</text>
</g>
<!-- titles -->
<text x="313" y="109.5" font-size="21" fill="#ff0000" textLength="477" lengthAdjust="spacingAndGlyphs">CFSv2 monthly Prec anomalies (mm/day)</text>
<text x="101" y="144.6" font-size="16" fill="#1e3cff" stroke="#1e3cff" stroke-width="0.35" textLength="89" lengthAdjust="spacingAndGlyphs">Feb 2020</text>
<text x="679" y="144.8" font-size="13" fill="#000" textLength="319" lengthAdjust="spacingAndGlyphs">Initial conditions: 2Nov2019&#8212;11Nov2019</text>
<text x="849" y="119.2" font-size="16.5" fill="#000" textLength="152" lengthAdjust="spacingAndGlyphs">NWS/NCEP/CPC</text>
<!-- NOAA logo -->
<g id="logo">
<path fill="#00ffff" d="M896.2 65.1 L904.8 73 L912.2 79.5 L918 83.2 L922.9 84.5 L916.4 88.6 L925.4 88.6 L936.1 82 L942.7 76.2 L952.2 66 L952.6 84.5 L949.3 91.1 L942.7 97.7 L934.5 102.6 L924.6 104.3 L914.7 102.6 L906.5 97.7 L899.9 91.1 L895.8 84.5 Z"/>
<path fill="#0a1edc" d="M900.3 57.3 L906.5 49.9 L914.7 45.4 L925.4 44.1 L936.1 44.9 L942.7 49.1 L949.3 56.9 L943.5 59.8 L941.9 63.9 L939.4 69.7 L936.1 75.4 L932.8 78.7 L928.7 80.4 L924.6 80.4 L919.7 77.1 L914.7 72.1 L911.4 66.4 L906.5 62.2 L901.5 58.1 Z"/>
<text x="911.8" y="64.7" font-size="10" font-weight="bold" fill="#fff" textLength="26.4" lengthAdjust="spacingAndGlyphs">NOAA</text>
<path stroke="#00ffff" stroke-width="1" d="M895.5 69V81M953.5 64V86"/>
</g>
<!-- colorbar -->
<g stroke="#000" stroke-width="2">
<path d="M297 734 L241 742 L297 750 Z" fill="#6a4234"/>
<path d="M801 734 L859 742 L801 750 Z" fill="#1464d2" stroke-width="1"/>
<rect x="297" y="734" width="56" height="16" fill="#a00000"/>
<rect x="353" y="734" width="56" height="16" fill="#be0000"/>
<rect x="409" y="734" width="56" height="16" fill="#ff3200"/>
<rect x="465" y="734" width="56" height="16" fill="#ffa000"/>
<rect x="521" y="734" width="56" height="16" fill="#ffffff"/>
<rect x="577" y="734" width="56" height="16" fill="#96f58c"/>
<rect x="633" y="734" width="56" height="16" fill="#50f050"/>
<rect x="689" y="734" width="56" height="16" fill="#1eb41e"/>
<rect x="745" y="734" width="56" height="16" fill="#0fa00f"/>
</g>
<g font-size="12.5" fill="#000" text-anchor="middle">
<text x="297" y="763">&#8722;1</text><text x="353" y="763">&#8722;0.8</text><text x="409" y="763">&#8722;0.6</text>
<text x="465" y="763">&#8722;0.4</text><text x="521" y="763">&#8722;0.2</text><text x="577" y="763">0.2</text>
<text x="633" y="763">0.4</text><text x="689" y="763">0.6</text><text x="745" y="763">0.8</text>
<text x="801" y="763">1</text>
</g>
<text x="310" y="805" font-size="14" fill="#000" textLength="480" lengthAdjust="spacingAndGlyphs">(Areas of expected skill less than 0.3 are shaded in grey.)</text>
</svg>
</body></html>
